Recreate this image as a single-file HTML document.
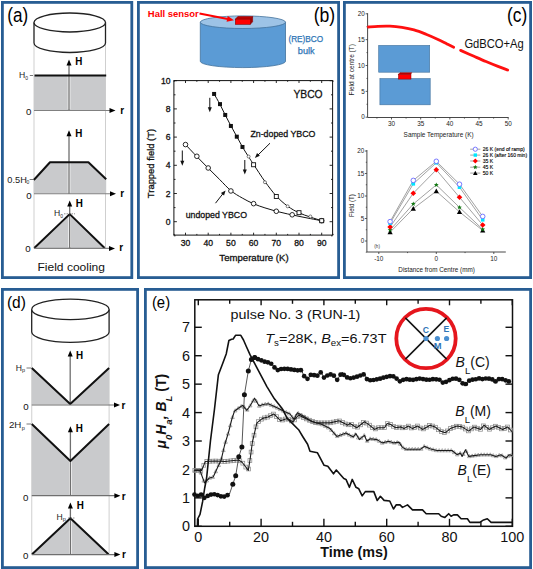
<!DOCTYPE html>
<html><head><meta charset="utf-8"><style>
html,body{margin:0;padding:0;background:#fff;}
svg{display:block;}
text{font-family:"Liberation Sans",sans-serif;}
</style></head><body>
<svg width="533" height="569" viewBox="0 0 533 569">
<rect x="0" y="0" width="533" height="569" fill="#fff"/>
<rect x="2.4" y="2.4" width="129.4" height="275.2" fill="none" stroke="#285d93" stroke-width="2.8"/>
<text x="7.2" y="21.9" font-size="19.3" fill="#000" textLength="20.9" lengthAdjust="spacingAndGlyphs">(a)</text>
<line x1="34" y1="44" x2="34" y2="248.5" stroke="#cfcfcf" stroke-width="1"/>
<line x1="105.5" y1="44" x2="105.5" y2="248.5" stroke="#cfcfcf" stroke-width="1"/>
<path d="M34.0,22.5 L34.0,43 A35.75,9.5 0 0 0 105.5,43 L105.5,22.5" stroke="#222" stroke-width="1.3" fill="#fff"/>
<ellipse cx="69.75" cy="22.5" rx="35.75" ry="9.5" fill="#fff" stroke="#222" stroke-width="1.3"/>
<rect x="34" y="76" width="71.5" height="34" fill="#c9cacc"/>
<line x1="69" y1="109.3" x2="69" y2="64" stroke="#fff" stroke-width="2.6"/>
<line x1="69" y1="110.5" x2="69" y2="64" stroke="#6f6f6f" stroke-width="1.3"/>
<line x1="34.5" y1="75.5" x2="106.2" y2="75.5" stroke="#111" stroke-width="2"/>
<polygon points="69,59.5 71.5,65.5 66.5,65.5" stroke="none" stroke-width="1" fill="#000" stroke-linejoin="round"/>
<line x1="34" y1="110.5" x2="110" y2="110.5" stroke="#808080" stroke-width="1.1"/>
<polygon points="115.5,110.5 109.5,113 109.5,108" stroke="none" stroke-width="1" fill="#000" stroke-linejoin="round"/>
<text x="75.3" y="65.3" font-size="10.6" fill="#000" font-weight="bold" textLength="7.1" lengthAdjust="spacingAndGlyphs">H</text>
<text x="120.2" y="113.6" font-size="10" fill="#000" font-weight="bold">r</text>
<text x="25.9" y="114.8" font-size="9.7" fill="#111">0</text>
<text x="19" y="78.3" font-size="8.6" fill="#1a1a1a">H</text>
<text x="25.2" y="80" font-size="5" fill="#1a1a1a">0</text>
<line x1="29.8" y1="75.5" x2="33" y2="75.5" stroke="#555" stroke-width="0.8"/>
<polygon points="33.8,180 50,162.3 88.4,162.3 106.2,179.2 106.2,193.5 33.8,193.5" stroke="none" stroke-width="1" fill="#c9cacc" stroke-linejoin="round"/>
<line x1="69" y1="192.8" x2="69" y2="135" stroke="#fff" stroke-width="2.6"/>
<line x1="69" y1="194" x2="69" y2="135" stroke="#6f6f6f" stroke-width="1.3"/>
<polyline points="33.8,180 50,162.3 88.4,162.3 106.2,179.2" stroke="#111" stroke-width="2" fill="none" stroke-linejoin="round"/>
<polygon points="69,130.3 71.5,136.3 66.5,136.3" stroke="none" stroke-width="1" fill="#000" stroke-linejoin="round"/>
<line x1="34" y1="193.8" x2="111" y2="193.8" stroke="#808080" stroke-width="1.1"/>
<polygon points="116,193.8 110,196.3 110,191.3" stroke="none" stroke-width="1" fill="#000" stroke-linejoin="round"/>
<text x="75.3" y="137.2" font-size="10.6" fill="#000" font-weight="bold" textLength="7.1" lengthAdjust="spacingAndGlyphs">H</text>
<text x="120.2" y="197" font-size="10" fill="#000" font-weight="bold">r</text>
<text x="26.2" y="198.7" font-size="9.7" fill="#111">0</text>
<text x="7.3" y="182.8" font-size="8.6" fill="#1a1a1a" textLength="19.5" lengthAdjust="spacingAndGlyphs">0.5H</text>
<text x="26.6" y="184.3" font-size="5" fill="#1a1a1a">0</text>
<line x1="29.6" y1="179.5" x2="33" y2="179.5" stroke="#555" stroke-width="0.8"/>
<polygon points="34.3,248 69.7,214.1 104.6,248" stroke="none" stroke-width="1" fill="#c9cacc" stroke-linejoin="round"/>
<line x1="69.7" y1="247.3" x2="69.7" y2="205" stroke="#fff" stroke-width="2.6"/>
<line x1="69.7" y1="248.5" x2="69.7" y2="205" stroke="#6f6f6f" stroke-width="1.3"/>
<polyline points="34.3,248 69.7,214.1 104.6,248" stroke="#111" stroke-width="2" fill="none" stroke-linejoin="round"/>
<polygon points="69.7,200.6 72.2,206.6 67.2,206.6" stroke="none" stroke-width="1" fill="#000" stroke-linejoin="round"/>
<line x1="34" y1="248.4" x2="110" y2="248.4" stroke="#808080" stroke-width="1.1"/>
<polygon points="115,248.4 109,250.9 109,245.9" stroke="none" stroke-width="1" fill="#000" stroke-linejoin="round"/>
<text x="75.8" y="206.8" font-size="10.6" fill="#000" font-weight="bold" textLength="7.1" lengthAdjust="spacingAndGlyphs">H</text>
<text x="119.2" y="250.5" font-size="10" fill="#000" font-weight="bold">r</text>
<text x="25.3" y="252.1" font-size="9.7" fill="#111">0</text>
<text x="54" y="216.4" font-size="8.6" fill="#1a1a1a">H</text>
<text x="60.2" y="218" font-size="5" fill="#1a1a1a">0</text>
<line x1="64" y1="213.8" x2="75" y2="213.8" stroke="#777" stroke-width="0.8" stroke-dasharray="1.5,1"/>
<text x="37.5" y="270.8" font-size="11.4" fill="#111" textLength="67.5" lengthAdjust="spacingAndGlyphs">Field cooling</text>
<rect x="2.4" y="289.4" width="135.2" height="278.2" fill="none" stroke="#285d93" stroke-width="2.8"/>
<text x="6.9" y="307.6" font-size="16.6" fill="#000" textLength="19" lengthAdjust="spacingAndGlyphs">(d)</text>
<line x1="31.75" y1="332" x2="31.75" y2="555" stroke="#cfcfcf" stroke-width="1"/>
<line x1="109.1" y1="332" x2="109.1" y2="555" stroke="#cfcfcf" stroke-width="1"/>
<path d="M31.700000000000003,309.4 L31.700000000000003,332.1 A38.7,10.2 0 0 0 109.10000000000001,332.1 L109.10000000000001,309.4" stroke="#222" stroke-width="1.3" fill="#fff"/>
<ellipse cx="70.4" cy="309.4" rx="38.7" ry="10.2" fill="#fff" stroke="#222" stroke-width="1.3"/>
<polygon points="31.75,368 70.2,404.5 31.75,404.5" stroke="none" stroke-width="1" fill="#c9cacc" stroke-linejoin="round"/>
<polygon points="109.1,368 70.2,404.5 109.1,404.5" stroke="none" stroke-width="1" fill="#c9cacc" stroke-linejoin="round"/>
<line x1="70.2" y1="403.8" x2="70.2" y2="355" stroke="#fff" stroke-width="2.6"/>
<line x1="70.2" y1="405" x2="70.2" y2="355" stroke="#6f6f6f" stroke-width="1.3"/>
<polyline points="31.75,368 70.2,404 109.1,368" stroke="#111" stroke-width="2" fill="none" stroke-linejoin="round"/>
<polygon points="70.2,350.5 72.7,356.5 67.7,356.5" stroke="none" stroke-width="1" fill="#000" stroke-linejoin="round"/>
<line x1="31.75" y1="405" x2="115" y2="405" stroke="#6f6f6f" stroke-width="1.2"/>
<polygon points="120,405 114,407.5 114,402.5" stroke="none" stroke-width="1" fill="#000" stroke-linejoin="round"/>
<text x="76" y="359.4" font-size="10.6" fill="#000" font-weight="bold" textLength="7.1" lengthAdjust="spacingAndGlyphs">H</text>
<text x="121.4" y="408.6" font-size="10" fill="#000" font-weight="bold">r</text>
<text x="23.3" y="409.5" font-size="9.7" fill="#111">0</text>
<text x="15.8" y="370.7" font-size="8.6" fill="#1a1a1a">H</text>
<text x="22" y="372.3" font-size="5.5" fill="#1a1a1a">p</text>
<line x1="26.5" y1="368" x2="31" y2="368" stroke="#555" stroke-width="0.8"/>
<polygon points="31.75,424 70.4,461 109.1,424 109.1,495.5 31.75,495.5" stroke="none" stroke-width="1" fill="#c9cacc" stroke-linejoin="round"/>
<line x1="70.4" y1="494.8" x2="70.4" y2="430.5" stroke="#fff" stroke-width="2.6"/>
<line x1="70.4" y1="496" x2="70.4" y2="430.5" stroke="#6f6f6f" stroke-width="1.3"/>
<polyline points="31.75,424 70.4,461 109.1,424" stroke="#111" stroke-width="2" fill="none" stroke-linejoin="round"/>
<polygon points="70.4,426.2 72.9,432.2 67.9,432.2" stroke="none" stroke-width="1" fill="#000" stroke-linejoin="round"/>
<line x1="31.75" y1="495.7" x2="116" y2="495.7" stroke="#6f6f6f" stroke-width="1.2"/>
<polygon points="120.4,495.7 114.4,498.2 114.4,493.2" stroke="none" stroke-width="1" fill="#000" stroke-linejoin="round"/>
<text x="75.8" y="432.2" font-size="10.6" fill="#000" font-weight="bold" textLength="7.1" lengthAdjust="spacingAndGlyphs">H</text>
<text x="121.8" y="500" font-size="10" fill="#000" font-weight="bold">r</text>
<text x="22.9" y="501.1" font-size="9.7" fill="#111">0</text>
<text x="8.9" y="428.2" font-size="8.6" fill="#1a1a1a" textLength="12.5" lengthAdjust="spacingAndGlyphs">2H</text>
<text x="21.7" y="430" font-size="5.5" fill="#1a1a1a">p</text>
<line x1="26.5" y1="424" x2="31" y2="424" stroke="#555" stroke-width="0.8"/>
<polygon points="32.1,554.5 70.4,518.3 108.5,554.5" stroke="none" stroke-width="1" fill="#c9cacc" stroke-linejoin="round"/>
<line x1="70.4" y1="553.8" x2="70.4" y2="507" stroke="#fff" stroke-width="2.6"/>
<line x1="70.4" y1="555" x2="70.4" y2="507" stroke="#6f6f6f" stroke-width="1.3"/>
<polyline points="32.1,554.3 70.4,518.3 108.5,554.3" stroke="#111" stroke-width="2" fill="none" stroke-linejoin="round"/>
<polygon points="70.4,502.6 72.9,508.6 67.9,508.6" stroke="none" stroke-width="1" fill="#000" stroke-linejoin="round"/>
<line x1="31.75" y1="554.6" x2="116" y2="554.6" stroke="#6f6f6f" stroke-width="1.2"/>
<polygon points="120.4,554.6 114.4,557.1 114.4,552.1" stroke="none" stroke-width="1" fill="#000" stroke-linejoin="round"/>
<text x="76.7" y="509.4" font-size="10.6" fill="#000" font-weight="bold" textLength="7.1" lengthAdjust="spacingAndGlyphs">H</text>
<text x="122" y="557.8" font-size="10" fill="#000" font-weight="bold">r</text>
<text x="22.9" y="558.5" font-size="9.7" fill="#111">0</text>
<text x="56.5" y="519.5" font-size="8.6" fill="#1a1a1a">H</text>
<text x="62.7" y="521" font-size="5.5" fill="#1a1a1a">p</text>
<line x1="68" y1="518" x2="75" y2="518" stroke="#777" stroke-width="0.8" stroke-dasharray="1.5,1"/>
<rect x="138.4" y="2.4" width="200.2" height="275.2" fill="none" stroke="#285d93" stroke-width="2.8"/>
<path d="M200.3,22.2 L200.3,61.3 A42.6,6.3 0 0 0 285.5,61.3 L285.5,22.2 Z" stroke="#41719c" stroke-width="0.8" fill="#5b9bd5"/>
<ellipse cx="242.9" cy="22.2" rx="42.6" ry="6.3" fill="#9dc3e6" stroke="#41719c" stroke-width="0.8"/>
<polygon points="235.3,19.2 237.8,16.6 252.6,16.6 250.3,19.2" stroke="#8b0000" stroke-width="0.6" fill="#c00000" stroke-linejoin="round"/>
<polygon points="250.3,19.2 252.6,16.6 252.6,21.8 250.3,24.3" stroke="#8b0000" stroke-width="0.6" fill="#a00000" stroke-linejoin="round"/>
<rect x="235.3" y="19.2" width="15" height="5.1" fill="#ff0000" stroke="#8b0000" stroke-width="0.6"/>
<line x1="199.5" y1="13.4" x2="229" y2="19.3" stroke="#ff0000" stroke-width="2"/>
<polygon points="234,20.3 226.55,21.87 227.72,15.99" stroke="none" stroke-width="1" fill="#ff0000" stroke-linejoin="round"/>
<text x="147.8" y="16.8" font-size="9.3" fill="#ff0000" font-weight="bold" textLength="51" lengthAdjust="spacingAndGlyphs">Hall sensor</text>
<text x="313.7" y="22.2" font-size="19.3" fill="#000" textLength="21.5" lengthAdjust="spacingAndGlyphs">(b)</text>
<text x="288.4" y="42.3" font-size="9" fill="#2e75b6" textLength="34.8" lengthAdjust="spacingAndGlyphs" stroke="#2e75b6" stroke-width="0.25">(RE)BCO</text>
<text x="297.8" y="54.3" font-size="9" fill="#2e75b6" textLength="16.8" lengthAdjust="spacingAndGlyphs" stroke="#2e75b6" stroke-width="0.25">bulk</text>
<rect x="173.9" y="80.6" width="158.7" height="154.5" fill="none" stroke="#111" stroke-width="1"/>
<line x1="173.9" y1="235.8" x2="175.5" y2="235.8" stroke="#111" stroke-width="0.9"/>
<line x1="332.6" y1="235.8" x2="331" y2="235.8" stroke="#111" stroke-width="0.9"/>
<line x1="173.9" y1="221.7" x2="176.9" y2="221.7" stroke="#111" stroke-width="0.9"/>
<line x1="332.6" y1="221.7" x2="329.6" y2="221.7" stroke="#111" stroke-width="0.9"/>
<text x="170.6" y="224.7" font-size="8.6" fill="#111" text-anchor="end" stroke="#111" stroke-width="0.3">0</text>
<line x1="173.9" y1="207.6" x2="175.5" y2="207.6" stroke="#111" stroke-width="0.9"/>
<line x1="332.6" y1="207.6" x2="331" y2="207.6" stroke="#111" stroke-width="0.9"/>
<line x1="173.9" y1="193.5" x2="176.9" y2="193.5" stroke="#111" stroke-width="0.9"/>
<line x1="332.6" y1="193.5" x2="329.6" y2="193.5" stroke="#111" stroke-width="0.9"/>
<text x="170.6" y="196.5" font-size="8.6" fill="#111" text-anchor="end" stroke="#111" stroke-width="0.3">2</text>
<line x1="173.9" y1="179.4" x2="175.5" y2="179.4" stroke="#111" stroke-width="0.9"/>
<line x1="332.6" y1="179.4" x2="331" y2="179.4" stroke="#111" stroke-width="0.9"/>
<line x1="173.9" y1="165.3" x2="176.9" y2="165.3" stroke="#111" stroke-width="0.9"/>
<line x1="332.6" y1="165.3" x2="329.6" y2="165.3" stroke="#111" stroke-width="0.9"/>
<text x="170.6" y="168.3" font-size="8.6" fill="#111" text-anchor="end" stroke="#111" stroke-width="0.3">4</text>
<line x1="173.9" y1="151.2" x2="175.5" y2="151.2" stroke="#111" stroke-width="0.9"/>
<line x1="332.6" y1="151.2" x2="331" y2="151.2" stroke="#111" stroke-width="0.9"/>
<line x1="173.9" y1="137.1" x2="176.9" y2="137.1" stroke="#111" stroke-width="0.9"/>
<line x1="332.6" y1="137.1" x2="329.6" y2="137.1" stroke="#111" stroke-width="0.9"/>
<text x="170.6" y="140.1" font-size="8.6" fill="#111" text-anchor="end" stroke="#111" stroke-width="0.3">6</text>
<line x1="173.9" y1="123" x2="175.5" y2="123" stroke="#111" stroke-width="0.9"/>
<line x1="332.6" y1="123" x2="331" y2="123" stroke="#111" stroke-width="0.9"/>
<line x1="173.9" y1="108.9" x2="176.9" y2="108.9" stroke="#111" stroke-width="0.9"/>
<line x1="332.6" y1="108.9" x2="329.6" y2="108.9" stroke="#111" stroke-width="0.9"/>
<text x="170.6" y="111.9" font-size="8.6" fill="#111" text-anchor="end" stroke="#111" stroke-width="0.3">8</text>
<line x1="173.9" y1="94.8" x2="175.5" y2="94.8" stroke="#111" stroke-width="0.9"/>
<line x1="332.6" y1="94.8" x2="331" y2="94.8" stroke="#111" stroke-width="0.9"/>
<line x1="173.9" y1="80.7" x2="176.9" y2="80.7" stroke="#111" stroke-width="0.9"/>
<line x1="332.6" y1="80.7" x2="329.6" y2="80.7" stroke="#111" stroke-width="0.9"/>
<text x="170.6" y="83.7" font-size="8.6" fill="#111" text-anchor="end" stroke="#111" stroke-width="0.3">10</text>
<line x1="174.15" y1="235.1" x2="174.15" y2="233.9" stroke="#111" stroke-width="0.9"/>
<line x1="174.15" y1="80.6" x2="174.15" y2="81.8" stroke="#111" stroke-width="0.9"/>
<line x1="185.5" y1="235.1" x2="185.5" y2="232.7" stroke="#111" stroke-width="0.9"/>
<line x1="185.5" y1="80.6" x2="185.5" y2="83" stroke="#111" stroke-width="0.9"/>
<text x="185.5" y="245.7" font-size="8.6" fill="#111" text-anchor="middle" stroke="#111" stroke-width="0.3">30</text>
<line x1="196.85" y1="235.1" x2="196.85" y2="233.9" stroke="#111" stroke-width="0.9"/>
<line x1="196.85" y1="80.6" x2="196.85" y2="81.8" stroke="#111" stroke-width="0.9"/>
<line x1="208.2" y1="235.1" x2="208.2" y2="232.7" stroke="#111" stroke-width="0.9"/>
<line x1="208.2" y1="80.6" x2="208.2" y2="83" stroke="#111" stroke-width="0.9"/>
<text x="208.2" y="245.7" font-size="8.6" fill="#111" text-anchor="middle" stroke="#111" stroke-width="0.3">40</text>
<line x1="219.55" y1="235.1" x2="219.55" y2="233.9" stroke="#111" stroke-width="0.9"/>
<line x1="219.55" y1="80.6" x2="219.55" y2="81.8" stroke="#111" stroke-width="0.9"/>
<line x1="230.9" y1="235.1" x2="230.9" y2="232.7" stroke="#111" stroke-width="0.9"/>
<line x1="230.9" y1="80.6" x2="230.9" y2="83" stroke="#111" stroke-width="0.9"/>
<text x="230.9" y="245.7" font-size="8.6" fill="#111" text-anchor="middle" stroke="#111" stroke-width="0.3">50</text>
<line x1="242.25" y1="235.1" x2="242.25" y2="233.9" stroke="#111" stroke-width="0.9"/>
<line x1="242.25" y1="80.6" x2="242.25" y2="81.8" stroke="#111" stroke-width="0.9"/>
<line x1="253.6" y1="235.1" x2="253.6" y2="232.7" stroke="#111" stroke-width="0.9"/>
<line x1="253.6" y1="80.6" x2="253.6" y2="83" stroke="#111" stroke-width="0.9"/>
<text x="253.6" y="245.7" font-size="8.6" fill="#111" text-anchor="middle" stroke="#111" stroke-width="0.3">60</text>
<line x1="264.95" y1="235.1" x2="264.95" y2="233.9" stroke="#111" stroke-width="0.9"/>
<line x1="264.95" y1="80.6" x2="264.95" y2="81.8" stroke="#111" stroke-width="0.9"/>
<line x1="276.3" y1="235.1" x2="276.3" y2="232.7" stroke="#111" stroke-width="0.9"/>
<line x1="276.3" y1="80.6" x2="276.3" y2="83" stroke="#111" stroke-width="0.9"/>
<text x="276.3" y="245.7" font-size="8.6" fill="#111" text-anchor="middle" stroke="#111" stroke-width="0.3">70</text>
<line x1="287.65" y1="235.1" x2="287.65" y2="233.9" stroke="#111" stroke-width="0.9"/>
<line x1="287.65" y1="80.6" x2="287.65" y2="81.8" stroke="#111" stroke-width="0.9"/>
<line x1="299" y1="235.1" x2="299" y2="232.7" stroke="#111" stroke-width="0.9"/>
<line x1="299" y1="80.6" x2="299" y2="83" stroke="#111" stroke-width="0.9"/>
<text x="299" y="245.7" font-size="8.6" fill="#111" text-anchor="middle" stroke="#111" stroke-width="0.3">80</text>
<line x1="310.35" y1="235.1" x2="310.35" y2="233.9" stroke="#111" stroke-width="0.9"/>
<line x1="310.35" y1="80.6" x2="310.35" y2="81.8" stroke="#111" stroke-width="0.9"/>
<line x1="321.7" y1="235.1" x2="321.7" y2="232.7" stroke="#111" stroke-width="0.9"/>
<line x1="321.7" y1="80.6" x2="321.7" y2="83" stroke="#111" stroke-width="0.9"/>
<text x="321.7" y="245.7" font-size="8.6" fill="#111" text-anchor="middle" stroke="#111" stroke-width="0.3">90</text>
<line x1="333.05" y1="235.1" x2="333.05" y2="233.9" stroke="#111" stroke-width="0.9"/>
<line x1="333.05" y1="80.6" x2="333.05" y2="81.8" stroke="#111" stroke-width="0.9"/>
<text x="154" y="163.5" font-size="9.4" fill="#111" text-anchor="middle" stroke="#111" stroke-width="0.3" textLength="69.3" lengthAdjust="spacingAndGlyphs" transform="rotate(-90 154 163.5)">Trapped field (T)</text>
<text x="254" y="260.7" font-size="9.4" fill="#111" text-anchor="middle" stroke="#111" stroke-width="0.3" textLength="69.3" lengthAdjust="spacingAndGlyphs">Temperature (K)</text>
<text x="293.4" y="98.2" font-size="11.6" fill="#111" stroke="#111" stroke-width="0.3" textLength="29.2" lengthAdjust="spacingAndGlyphs">YBCO</text>
<text x="250.4" y="136.9" font-size="9.4" fill="#111" stroke="#111" stroke-width="0.3" textLength="65" lengthAdjust="spacingAndGlyphs">Zn-doped YBCO</text>
<text x="185.7" y="218.1" font-size="9.4" fill="#111" stroke="#111" stroke-width="0.3" textLength="61.3" lengthAdjust="spacingAndGlyphs">undoped YBCO</text>
<path d="M185.5,144.57 C187.39,146.57 193.07,152.63 196.85,156.56 C200.63,160.48 204.42,164.31 208.2,168.12 C211.98,171.93 215.77,175.64 219.55,179.4 C223.33,183.16 227.12,187.58 230.9,190.68 C234.68,193.78 238.47,195.83 242.25,198.01 C246.03,200.2 249.82,202.15 253.6,203.79 C257.38,205.44 261.17,206.64 264.95,207.88 C268.73,209.13 272.52,210.26 276.3,211.27 C280.08,212.28 283.87,213.1 287.65,213.94 C291.43,214.79 295.22,215.57 299,216.34 C302.78,217.12 306.57,217.87 310.35,218.6 C314.13,219.33 319.81,220.36 321.7,220.71" stroke="#111" stroke-width="1" fill="none"/>
<path d="M214.1,93.95 C215.09,95.69 218.15,100.89 220,104.39 C221.86,107.89 223.41,111.39 225.22,114.96 C227.04,118.53 228.97,122.22 230.9,125.82 C232.83,129.42 234.87,133.01 236.8,136.54 C238.73,140.06 240.51,143.59 242.48,146.97 C244.44,150.35 246.75,153.93 248.61,156.84 C250.46,159.75 250.88,160.34 253.6,164.45 C256.32,168.57 261.17,176.25 264.95,181.51 C268.73,186.78 272.52,191.93 276.3,196.04 C280.08,200.15 283.87,203.39 287.65,206.19 C291.43,208.99 295.22,211.01 299,212.82 C302.78,214.63 306.57,215.73 310.35,217.05 C314.13,218.36 319.81,220.1 321.7,220.71" stroke="#111" stroke-width="1" fill="none"/>
<circle cx="185.5" cy="144.57" r="2.3" fill="#fff" stroke="#111" stroke-width="0.9"/>
<circle cx="196.85" cy="156.28" r="2.3" fill="#fff" stroke="#111" stroke-width="0.9"/>
<circle cx="208.2" cy="167.98" r="2.3" fill="#fff" stroke="#111" stroke-width="0.9"/>
<circle cx="230.9" cy="190.96" r="2.3" fill="#fff" stroke="#111" stroke-width="0.9"/>
<circle cx="253.6" cy="203.65" r="2.3" fill="#fff" stroke="#111" stroke-width="0.9"/>
<circle cx="276.3" cy="211.27" r="2.3" fill="#fff" stroke="#111" stroke-width="0.9"/>
<circle cx="292.19" cy="214.79" r="2.3" fill="#fff" stroke="#111" stroke-width="0.9"/>
<circle cx="321.7" cy="220.71" r="2.3" fill="#fff" stroke="#111" stroke-width="0.9"/>
<rect x="212.1" y="91.95" width="4" height="4" fill="#111"/>
<rect x="218" y="102.11" width="4" height="4" fill="#111"/>
<rect x="223.22" y="112.96" width="4" height="4" fill="#111"/>
<rect x="228.9" y="123.96" width="4" height="4" fill="#111"/>
<rect x="234.8" y="134.68" width="4" height="4" fill="#111"/>
<rect x="240.48" y="144.97" width="4" height="4" fill="#111"/>
<rect x="251.6" y="162.74" width="4" height="4" fill="#fff" stroke="#111" stroke-width="0.9"/>
<rect x="274.3" y="194.46" width="4" height="4" fill="#fff" stroke="#111" stroke-width="0.9"/>
<rect x="297" y="210.68" width="4" height="4" fill="#fff" stroke="#111" stroke-width="0.9"/>
<rect x="319.7" y="218.71" width="4" height="4" fill="#fff" stroke="#111" stroke-width="0.9"/>
<circle cx="248.61" cy="156.56" r="1.5" fill="#fff" stroke="#444" stroke-width="0.7"/>
<circle cx="264.95" cy="182.22" r="1.5" fill="#fff" stroke="#444" stroke-width="0.7"/>
<circle cx="287.65" cy="206.33" r="1.5" fill="#fff" stroke="#444" stroke-width="0.7"/>
<circle cx="310.35" cy="216.48" r="1.5" fill="#fff" stroke="#444" stroke-width="0.7"/>
<line x1="182.3" y1="150.5" x2="182.3" y2="161.7" stroke="#111" stroke-width="1"/>
<polygon points="182.3,165.7 180.3,160.7 184.3,160.7" stroke="none" stroke-width="1" fill="#111" stroke-linejoin="round"/>
<line x1="209.8" y1="97.8" x2="209.8" y2="108.2" stroke="#111" stroke-width="1"/>
<polygon points="209.8,112.2 207.8,107.2 211.8,107.2" stroke="none" stroke-width="1" fill="#111" stroke-linejoin="round"/>
<line x1="244.8" y1="160" x2="244.8" y2="170.4" stroke="#111" stroke-width="1"/>
<polygon points="244.8,174.4 242.8,169.4 246.8,169.4" stroke="none" stroke-width="1" fill="#111" stroke-linejoin="round"/>
<line x1="270" y1="143.2" x2="258" y2="155" stroke="#111" stroke-width="1"/>
<polygon points="254.9,157.9 257.02,152.95 259.85,155.78" stroke="none" stroke-width="1" fill="#111" stroke-linejoin="round"/>
<line x1="215.5" y1="203.2" x2="223" y2="193.6" stroke="#111" stroke-width="1"/>
<polygon points="225.6,190.4 224.04,195.55 220.91,193.05" stroke="none" stroke-width="1" fill="#111" stroke-linejoin="round"/>
<rect x="344.4" y="2.4" width="186.2" height="275.2" fill="none" stroke="#285d93" stroke-width="2.8"/>
<text x="507" y="21.6" font-size="19.6" fill="#000" textLength="20.2" lengthAdjust="spacingAndGlyphs">(c)</text>
<line x1="367.6" y1="13.2" x2="367.6" y2="117.5" stroke="#333" stroke-width="0.9"/>
<line x1="367.6" y1="117.5" x2="508.6" y2="117.5" stroke="#333" stroke-width="0.9"/>
<line x1="365.6" y1="117.2" x2="367.6" y2="117.2" stroke="#333" stroke-width="0.8"/>
<text x="364.8" y="119.4" font-size="6.3" fill="#222" text-anchor="end">0</text>
<line x1="366.5" y1="104.28" x2="367.6" y2="104.28" stroke="#333" stroke-width="0.8"/>
<line x1="365.6" y1="91.35" x2="367.6" y2="91.35" stroke="#333" stroke-width="0.8"/>
<text x="364.8" y="93.55" font-size="6.3" fill="#222" text-anchor="end">5</text>
<line x1="366.5" y1="78.43" x2="367.6" y2="78.43" stroke="#333" stroke-width="0.8"/>
<line x1="365.6" y1="65.5" x2="367.6" y2="65.5" stroke="#333" stroke-width="0.8"/>
<text x="364.8" y="67.7" font-size="6.3" fill="#222" text-anchor="end">10</text>
<line x1="366.5" y1="52.58" x2="367.6" y2="52.58" stroke="#333" stroke-width="0.8"/>
<line x1="365.6" y1="39.65" x2="367.6" y2="39.65" stroke="#333" stroke-width="0.8"/>
<text x="364.8" y="41.85" font-size="6.3" fill="#222" text-anchor="end">15</text>
<line x1="366.5" y1="26.73" x2="367.6" y2="26.73" stroke="#333" stroke-width="0.8"/>
<line x1="365.6" y1="13.8" x2="367.6" y2="13.8" stroke="#333" stroke-width="0.8"/>
<text x="364.8" y="16" font-size="6.3" fill="#222" text-anchor="end">20</text>
<line x1="376.91" y1="117.5" x2="376.91" y2="118.6" stroke="#333" stroke-width="0.8"/>
<line x1="391.5" y1="117.5" x2="391.5" y2="119.5" stroke="#333" stroke-width="0.8"/>
<text x="391.5" y="125.6" font-size="6.4" fill="#222" text-anchor="middle">30</text>
<line x1="406.09" y1="117.5" x2="406.09" y2="118.6" stroke="#333" stroke-width="0.8"/>
<line x1="420.68" y1="117.5" x2="420.68" y2="119.5" stroke="#333" stroke-width="0.8"/>
<text x="420.68" y="125.6" font-size="6.4" fill="#222" text-anchor="middle">35</text>
<line x1="435.26" y1="117.5" x2="435.26" y2="118.6" stroke="#333" stroke-width="0.8"/>
<line x1="449.85" y1="117.5" x2="449.85" y2="119.5" stroke="#333" stroke-width="0.8"/>
<text x="449.85" y="125.6" font-size="6.4" fill="#222" text-anchor="middle">40</text>
<line x1="464.44" y1="117.5" x2="464.44" y2="118.6" stroke="#333" stroke-width="0.8"/>
<line x1="479.02" y1="117.5" x2="479.02" y2="119.5" stroke="#333" stroke-width="0.8"/>
<text x="479.02" y="125.6" font-size="6.4" fill="#222" text-anchor="middle">45</text>
<line x1="493.61" y1="117.5" x2="493.61" y2="118.6" stroke="#333" stroke-width="0.8"/>
<line x1="508.2" y1="117.5" x2="508.2" y2="119.5" stroke="#333" stroke-width="0.8"/>
<text x="508.2" y="125.6" font-size="6.4" fill="#222" text-anchor="middle">50</text>
<text x="354.3" y="69.8" font-size="6.5" fill="#222" text-anchor="middle" textLength="51.4" lengthAdjust="spacingAndGlyphs" transform="rotate(-90 354.3 69.8)">Field at centre (T)</text>
<text x="438.6" y="136.6" font-size="6.6" fill="#222" text-anchor="middle" textLength="70" lengthAdjust="spacingAndGlyphs">Sample Temperature (K)</text>
<rect x="378.7" y="45.4" width="51" height="26.8" fill="#5b9bd5" stroke="#41719c" stroke-width="0.6"/>
<rect x="379.9" y="78.6" width="50.3" height="26.2" fill="#5b9bd5" stroke="#41719c" stroke-width="0.6"/>
<polygon points="398.4,74.3 400,72.7 411.8,72.7 410.6,74.3" stroke="#800" stroke-width="0.5" fill="#c00000" stroke-linejoin="round"/>
<rect x="398.4" y="74.3" width="12.6" height="4.8" fill="#ff0000" stroke="#800" stroke-width="0.5"/>
<path d="M368.4,27 C370,26.88 374.4,26.43 378,26.3 C381.6,26.17 386,26.02 390,26.2 C394,26.38 398,26.78 402,27.4 C406,28.02 410,28.77 414,29.9 C418,31.03 422,32.62 426,34.2 C430,35.78 434.5,37.78 438,39.4 C441.5,41.02 444.38,42.6 447,43.9 C449.62,45.2 452.58,46.65 453.7,47.2" stroke="#ff1010" stroke-width="2.8" fill="none" stroke-linecap="round"/>
<path d="M460.6,50.4 C462.83,51.38 469.77,54.45 474,56.3 C478.23,58.15 482,59.82 486,61.5 C490,63.18 494.38,64.98 498,66.4 C501.62,67.82 506.08,69.4 507.7,70" stroke="#ff1010" stroke-width="2.8" fill="none" stroke-linecap="round"/>
<text x="464.4" y="47.7" font-size="12" fill="#111" textLength="59.4" lengthAdjust="spacingAndGlyphs">GdBCO+Ag</text>
<line x1="366.9" y1="150" x2="366.9" y2="252" stroke="#333" stroke-width="0.9"/>
<line x1="366.9" y1="252" x2="505.8" y2="252" stroke="#333" stroke-width="0.9"/>
<line x1="365.8" y1="252.25" x2="366.9" y2="252.25" stroke="#333" stroke-width="0.8"/>
<line x1="364.9" y1="241" x2="366.9" y2="241" stroke="#333" stroke-width="0.8"/>
<text x="364.2" y="243.2" font-size="6.3" fill="#222" text-anchor="end">0</text>
<line x1="365.8" y1="229.75" x2="366.9" y2="229.75" stroke="#333" stroke-width="0.8"/>
<line x1="364.9" y1="218.5" x2="366.9" y2="218.5" stroke="#333" stroke-width="0.8"/>
<text x="364.2" y="220.7" font-size="6.3" fill="#222" text-anchor="end">5</text>
<line x1="365.8" y1="207.25" x2="366.9" y2="207.25" stroke="#333" stroke-width="0.8"/>
<line x1="364.9" y1="196" x2="366.9" y2="196" stroke="#333" stroke-width="0.8"/>
<text x="364.2" y="198.2" font-size="6.3" fill="#222" text-anchor="end">10</text>
<line x1="365.8" y1="184.75" x2="366.9" y2="184.75" stroke="#333" stroke-width="0.8"/>
<line x1="364.9" y1="173.5" x2="366.9" y2="173.5" stroke="#333" stroke-width="0.8"/>
<text x="364.2" y="175.7" font-size="6.3" fill="#222" text-anchor="end">15</text>
<line x1="365.8" y1="162.25" x2="366.9" y2="162.25" stroke="#333" stroke-width="0.8"/>
<line x1="364.9" y1="151" x2="366.9" y2="151" stroke="#333" stroke-width="0.8"/>
<text x="364.2" y="153.2" font-size="6.3" fill="#222" text-anchor="end">20</text>
<line x1="378.8" y1="252" x2="378.8" y2="254" stroke="#333" stroke-width="0.8"/>
<text x="378.8" y="261.2" font-size="6.4" fill="#222" text-anchor="middle">-10</text>
<line x1="407.55" y1="252" x2="407.55" y2="253.1" stroke="#333" stroke-width="0.8"/>
<line x1="436.3" y1="252" x2="436.3" y2="254" stroke="#333" stroke-width="0.8"/>
<text x="436.3" y="261.2" font-size="6.4" fill="#222" text-anchor="middle">0</text>
<line x1="465.05" y1="252" x2="465.05" y2="253.1" stroke="#333" stroke-width="0.8"/>
<line x1="493.8" y1="252" x2="493.8" y2="254" stroke="#333" stroke-width="0.8"/>
<text x="493.8" y="261.2" font-size="6.4" fill="#222" text-anchor="middle">10</text>
<text x="354" y="205.5" font-size="6.5" fill="#222" text-anchor="middle" textLength="22.8" lengthAdjust="spacingAndGlyphs" transform="rotate(-90 354 205.5)">Field (T)</text>
<text x="436.6" y="271.5" font-size="6.6" fill="#222" text-anchor="middle" textLength="76.5" lengthAdjust="spacingAndGlyphs">Distance from Centre (mm)</text>
<text x="374.3" y="248.4" font-size="4.6" fill="#333">(h)</text>
<polyline points="390.1,221.6 413.3,180.4 436.3,161.3 459.5,184.2 482.7,216.4" stroke="#8a8a8a" stroke-width="0.8" fill="none" stroke-linejoin="round"/>
<polyline points="390.1,223.2 413.3,183.8 436.3,162.8 459.5,187.2 482.7,219.8" stroke="#8a8a8a" stroke-width="0.8" fill="none" stroke-linejoin="round"/>
<polyline points="390.1,227 413.3,193.2 436.3,169.8 459.5,197.3 482.7,225" stroke="#8a8a8a" stroke-width="0.8" fill="none" stroke-linejoin="round"/>
<polyline points="390.1,230 413.3,204 436.3,184.9 459.5,207.4 482.7,229.3" stroke="#8a8a8a" stroke-width="0.8" fill="none" stroke-linejoin="round"/>
<polyline points="390.1,232.2 413.3,208.6 436.3,191.2 459.5,211.9 482.7,230.4" stroke="#8a8a8a" stroke-width="0.8" fill="none" stroke-linejoin="round"/>
<polygon points="390.1,229.6 392.7,234.28 387.5,234.28" stroke="none" stroke-width="1" fill="#000" stroke-linejoin="round"/>
<polygon points="413.3,206 415.9,210.68 410.7,210.68" stroke="none" stroke-width="1" fill="#000" stroke-linejoin="round"/>
<polygon points="436.3,188.6 438.9,193.28 433.7,193.28" stroke="none" stroke-width="1" fill="#000" stroke-linejoin="round"/>
<polygon points="459.5,209.3 462.1,213.98 456.9,213.98" stroke="none" stroke-width="1" fill="#000" stroke-linejoin="round"/>
<polygon points="482.7,227.8 485.3,232.48 480.1,232.48" stroke="none" stroke-width="1" fill="#000" stroke-linejoin="round"/>
<polygon points="390.1,227.5 390.76,229.09 392.48,229.23 391.17,230.35 391.57,232.02 390.1,231.12 388.63,232.02 389.03,230.35 387.72,229.23 389.44,229.09" stroke="none" stroke-width="1" fill="#117711" stroke-linejoin="round"/>
<polygon points="413.3,201.5 413.96,203.09 415.68,203.23 414.37,204.35 414.77,206.02 413.3,205.12 411.83,206.02 412.23,204.35 410.92,203.23 412.64,203.09" stroke="none" stroke-width="1" fill="#117711" stroke-linejoin="round"/>
<polygon points="436.3,182.4 436.96,183.99 438.68,184.13 437.37,185.25 437.77,186.92 436.3,186.03 434.83,186.92 435.23,185.25 433.92,184.13 435.64,183.99" stroke="none" stroke-width="1" fill="#117711" stroke-linejoin="round"/>
<polygon points="459.5,204.9 460.16,206.49 461.88,206.63 460.57,207.75 460.97,209.42 459.5,208.53 458.03,209.42 458.43,207.75 457.12,206.63 458.84,206.49" stroke="none" stroke-width="1" fill="#117711" stroke-linejoin="round"/>
<polygon points="482.7,226.8 483.36,228.39 485.08,228.53 483.77,229.65 484.17,231.32 482.7,230.43 481.23,231.32 481.63,229.65 480.32,228.53 482.04,228.39" stroke="none" stroke-width="1" fill="#117711" stroke-linejoin="round"/>
<polygon points="390.1,224.2 392.9,227 390.1,229.8 387.3,227" stroke="none" stroke-width="1" fill="#ff0000" stroke-linejoin="round"/>
<polygon points="413.3,190.4 416.1,193.2 413.3,196 410.5,193.2" stroke="none" stroke-width="1" fill="#ff0000" stroke-linejoin="round"/>
<polygon points="436.3,167 439.1,169.8 436.3,172.6 433.5,169.8" stroke="none" stroke-width="1" fill="#ff0000" stroke-linejoin="round"/>
<polygon points="459.5,194.5 462.3,197.3 459.5,200.1 456.7,197.3" stroke="none" stroke-width="1" fill="#ff0000" stroke-linejoin="round"/>
<polygon points="482.7,222.2 485.5,225 482.7,227.8 479.9,225" stroke="none" stroke-width="1" fill="#ff0000" stroke-linejoin="round"/>
<rect x="388.3" y="221.4" width="3.6" height="3.6" fill="#00e8ff"/>
<rect x="411.5" y="182" width="3.6" height="3.6" fill="#00e8ff"/>
<rect x="434.5" y="161" width="3.6" height="3.6" fill="#00e8ff"/>
<rect x="457.7" y="185.4" width="3.6" height="3.6" fill="#00e8ff"/>
<rect x="480.9" y="218" width="3.6" height="3.6" fill="#00e8ff"/>
<circle cx="390.1" cy="221.6" r="2.3" fill="#fff" stroke="#6a6aff" stroke-width="0.9"/>
<circle cx="413.3" cy="180.4" r="2.3" fill="#fff" stroke="#6a6aff" stroke-width="0.9"/>
<circle cx="436.3" cy="161.3" r="2.3" fill="#fff" stroke="#6a6aff" stroke-width="0.9"/>
<circle cx="459.5" cy="184.2" r="2.3" fill="#fff" stroke="#6a6aff" stroke-width="0.9"/>
<circle cx="482.7" cy="216.4" r="2.3" fill="#fff" stroke="#6a6aff" stroke-width="0.9"/>
<line x1="470.2" y1="149.2" x2="480.3" y2="149.2" stroke="#8a8a8a" stroke-width="0.8"/>
<circle cx="475.3" cy="149.2" r="2.1" fill="#fff" stroke="#6a6aff" stroke-width="0.9"/>
<text x="482.7" y="151" font-size="5" fill="#000" textLength="42" lengthAdjust="spacingAndGlyphs" stroke="#000" stroke-width="0.12">26 K (end of ramp)</text>
<line x1="470.2" y1="155.1" x2="480.3" y2="155.1" stroke="#8a8a8a" stroke-width="0.8"/>
<rect x="473.6" y="153.4" width="3.4" height="3.4" fill="#00e8ff"/>
<text x="482.7" y="156.9" font-size="5" fill="#000" textLength="44.4" lengthAdjust="spacingAndGlyphs" stroke="#000" stroke-width="0.12">26 K (after 160 min)</text>
<line x1="470.2" y1="161" x2="480.3" y2="161" stroke="#8a8a8a" stroke-width="0.8"/>
<polygon points="475.3,158.5 477.8,161 475.3,163.5 472.8,161" stroke="none" stroke-width="1" fill="#ff0000" stroke-linejoin="round"/>
<text x="482.7" y="162.8" font-size="5" fill="#000" textLength="10.5" lengthAdjust="spacingAndGlyphs" stroke="#000" stroke-width="0.12">35 K</text>
<line x1="470.2" y1="167.2" x2="480.3" y2="167.2" stroke="#8a8a8a" stroke-width="0.8"/>
<polygon points="475.3,164.8 475.93,166.33 477.58,166.46 476.33,167.53 476.71,169.14 475.3,168.28 473.89,169.14 474.27,167.53 473.02,166.46 474.67,166.33" stroke="none" stroke-width="1" fill="#117711" stroke-linejoin="round"/>
<text x="482.7" y="169" font-size="5" fill="#000" textLength="10.5" lengthAdjust="spacingAndGlyphs" stroke="#000" stroke-width="0.12">45 K</text>
<line x1="470.2" y1="173.1" x2="480.3" y2="173.1" stroke="#8a8a8a" stroke-width="0.8"/>
<polygon points="475.3,170.8 477.6,174.94 473,174.94" stroke="none" stroke-width="1" fill="#000" stroke-linejoin="round"/>
<text x="482.7" y="174.9" font-size="5" fill="#000" textLength="10.5" lengthAdjust="spacingAndGlyphs" stroke="#000" stroke-width="0.12">50 K</text>
<rect x="145.4" y="289.4" width="385.2" height="278.2" fill="none" stroke="#285d93" stroke-width="2.8"/>
<text x="151.9" y="307.8" font-size="16.8" fill="#000" textLength="18.2" lengthAdjust="spacingAndGlyphs">(e)</text>
<rect x="194.8" y="299.8" width="317.7" height="226.5" fill="none" stroke="#111" stroke-width="1.5"/>
<line x1="194.8" y1="526.3" x2="201.8" y2="526.3" stroke="#111" stroke-width="1.4"/>
<line x1="512.5" y1="526.3" x2="505.5" y2="526.3" stroke="#111" stroke-width="1.4"/>
<text x="189.9" y="531.4" font-size="14.4" fill="#111" text-anchor="end">0</text>
<line x1="194.8" y1="497.87" x2="201.8" y2="497.87" stroke="#111" stroke-width="1.4"/>
<line x1="512.5" y1="497.87" x2="505.5" y2="497.87" stroke="#111" stroke-width="1.4"/>
<text x="189.9" y="502.97" font-size="14.4" fill="#111" text-anchor="end">1</text>
<line x1="194.8" y1="469.44" x2="201.8" y2="469.44" stroke="#111" stroke-width="1.4"/>
<line x1="512.5" y1="469.44" x2="505.5" y2="469.44" stroke="#111" stroke-width="1.4"/>
<text x="189.9" y="474.54" font-size="14.4" fill="#111" text-anchor="end">2</text>
<line x1="194.8" y1="441.01" x2="201.8" y2="441.01" stroke="#111" stroke-width="1.4"/>
<line x1="512.5" y1="441.01" x2="505.5" y2="441.01" stroke="#111" stroke-width="1.4"/>
<text x="189.9" y="446.11" font-size="14.4" fill="#111" text-anchor="end">3</text>
<line x1="194.8" y1="412.58" x2="201.8" y2="412.58" stroke="#111" stroke-width="1.4"/>
<line x1="512.5" y1="412.58" x2="505.5" y2="412.58" stroke="#111" stroke-width="1.4"/>
<text x="189.9" y="417.68" font-size="14.4" fill="#111" text-anchor="end">4</text>
<line x1="194.8" y1="384.15" x2="201.8" y2="384.15" stroke="#111" stroke-width="1.4"/>
<line x1="512.5" y1="384.15" x2="505.5" y2="384.15" stroke="#111" stroke-width="1.4"/>
<text x="189.9" y="389.25" font-size="14.4" fill="#111" text-anchor="end">5</text>
<line x1="194.8" y1="355.72" x2="201.8" y2="355.72" stroke="#111" stroke-width="1.4"/>
<line x1="512.5" y1="355.72" x2="505.5" y2="355.72" stroke="#111" stroke-width="1.4"/>
<text x="189.9" y="360.82" font-size="14.4" fill="#111" text-anchor="end">6</text>
<line x1="194.8" y1="327.29" x2="201.8" y2="327.29" stroke="#111" stroke-width="1.4"/>
<line x1="512.5" y1="327.29" x2="505.5" y2="327.29" stroke="#111" stroke-width="1.4"/>
<text x="189.9" y="332.39" font-size="14.4" fill="#111" text-anchor="end">7</text>
<line x1="198.3" y1="526.3" x2="198.3" y2="518.8" stroke="#111" stroke-width="1.4"/>
<line x1="198.3" y1="299.8" x2="198.3" y2="305.3" stroke="#111" stroke-width="1.4"/>
<text x="198.3" y="542.1" font-size="14.4" fill="#111" text-anchor="middle">0</text>
<line x1="229.7" y1="526.3" x2="229.7" y2="521.8" stroke="#111" stroke-width="1.4"/>
<line x1="229.7" y1="299.8" x2="229.7" y2="303.8" stroke="#111" stroke-width="1.4"/>
<line x1="261.1" y1="526.3" x2="261.1" y2="518.8" stroke="#111" stroke-width="1.4"/>
<line x1="261.1" y1="299.8" x2="261.1" y2="305.3" stroke="#111" stroke-width="1.4"/>
<text x="261.1" y="542.1" font-size="14.4" fill="#111" text-anchor="middle">20</text>
<line x1="292.5" y1="526.3" x2="292.5" y2="521.8" stroke="#111" stroke-width="1.4"/>
<line x1="292.5" y1="299.8" x2="292.5" y2="303.8" stroke="#111" stroke-width="1.4"/>
<line x1="323.9" y1="526.3" x2="323.9" y2="518.8" stroke="#111" stroke-width="1.4"/>
<line x1="323.9" y1="299.8" x2="323.9" y2="305.3" stroke="#111" stroke-width="1.4"/>
<text x="323.9" y="542.1" font-size="14.4" fill="#111" text-anchor="middle">40</text>
<line x1="355.3" y1="526.3" x2="355.3" y2="521.8" stroke="#111" stroke-width="1.4"/>
<line x1="355.3" y1="299.8" x2="355.3" y2="303.8" stroke="#111" stroke-width="1.4"/>
<line x1="386.7" y1="526.3" x2="386.7" y2="518.8" stroke="#111" stroke-width="1.4"/>
<line x1="386.7" y1="299.8" x2="386.7" y2="305.3" stroke="#111" stroke-width="1.4"/>
<text x="386.7" y="542.1" font-size="14.4" fill="#111" text-anchor="middle">60</text>
<line x1="418.1" y1="526.3" x2="418.1" y2="521.8" stroke="#111" stroke-width="1.4"/>
<line x1="418.1" y1="299.8" x2="418.1" y2="303.8" stroke="#111" stroke-width="1.4"/>
<line x1="449.5" y1="526.3" x2="449.5" y2="518.8" stroke="#111" stroke-width="1.4"/>
<line x1="449.5" y1="299.8" x2="449.5" y2="305.3" stroke="#111" stroke-width="1.4"/>
<text x="449.5" y="542.1" font-size="14.4" fill="#111" text-anchor="middle">80</text>
<line x1="480.9" y1="526.3" x2="480.9" y2="521.8" stroke="#111" stroke-width="1.4"/>
<line x1="480.9" y1="299.8" x2="480.9" y2="303.8" stroke="#111" stroke-width="1.4"/>
<line x1="512.3" y1="526.3" x2="512.3" y2="518.8" stroke="#111" stroke-width="1.4"/>
<line x1="512.3" y1="299.8" x2="512.3" y2="305.3" stroke="#111" stroke-width="1.4"/>
<text x="512.3" y="542.1" font-size="14.4" fill="#111" text-anchor="middle">100</text>
<text x="354" y="557.4" font-size="13.8" fill="#111" text-anchor="middle" font-weight="bold" textLength="67.5" lengthAdjust="spacingAndGlyphs">Time (ms)</text>
<text x="165.8" y="448.5" transform="rotate(-90 165.8 448.5)" font-size="14" font-weight="bold" font-style="italic" fill="#111" font-family="Liberation Sans">&#956;<tspan font-size="9.5" dy="6">0</tspan><tspan dy="-6">H</tspan><tspan font-size="9.5" dy="6">a</tspan><tspan dy="-6">, B</tspan><tspan font-size="9.5" dy="6">L</tspan><tspan dy="-6" font-style="normal"> (T)</tspan></text>
<text x="230.6" y="318.9" font-size="13" fill="#111" textLength="129.8" lengthAdjust="spacingAndGlyphs">pulse No. 3 (RUN-1)</text>
<text x="265.3" y="342.6" font-size="13.4" fill="#111" font-family="Liberation Sans" textLength="121.2" lengthAdjust="spacingAndGlyphs"><tspan font-style="italic">T</tspan><tspan font-size="9" dy="3">s</tspan><tspan dy="-3">=28K, </tspan><tspan font-style="italic">B</tspan><tspan font-size="9" dy="3">ex</tspan><tspan dy="-3">=6.73T</tspan></text>
<text x="455.6" y="366.9" font-size="14" fill="#111" font-family="Liberation Sans"><tspan font-style="italic">B</tspan><tspan font-size="9.5" dy="7">L</tspan><tspan dy="-7">(C)</tspan></text>
<text x="455.3" y="415.8" font-size="14" fill="#111" font-family="Liberation Sans"><tspan font-style="italic">B</tspan><tspan font-size="9.5" dy="7">L</tspan><tspan dy="-7">(M)</tspan></text>
<text x="457.6" y="475" font-size="14" fill="#111" font-family="Liberation Sans"><tspan font-style="italic">B</tspan><tspan font-size="9.5" dy="7">L</tspan><tspan dy="-7">(E)</tspan></text>
<circle cx="426" cy="338.5" r="29.7" fill="#fff" stroke="#e5161d" stroke-width="3.8"/>
<line x1="405.4" y1="317.9" x2="446.6" y2="359.1" stroke="#111" stroke-width="1.5"/>
<line x1="446.6" y1="317.9" x2="405.4" y2="359.1" stroke="#111" stroke-width="1.5"/>
<circle cx="426" cy="338.5" r="2.6" fill="#4a8fd0"/>
<circle cx="437.4" cy="338.5" r="2.6" fill="#4a8fd0"/>
<circle cx="446.6" cy="338.5" r="2.6" fill="#4a8fd0"/>
<text x="422.8" y="332.5" font-size="8.6" fill="#2e75b6" font-weight="bold">C</text>
<text x="443.6" y="331.8" font-size="8.6" fill="#2e75b6" font-weight="bold">E</text>
<text x="433.7" y="348.6" font-size="8.6" fill="#2e75b6" font-weight="bold" textLength="7.8" lengthAdjust="spacingAndGlyphs">M</text>
<rect x="192.9" y="468.5" width="3.8" height="3.8" fill="none" stroke="#8c8c8c" stroke-width="0.75"/>
<rect x="195.9" y="468.5" width="3.8" height="3.8" fill="none" stroke="#8c8c8c" stroke-width="0.75"/>
<rect x="198.9" y="468.5" width="3.8" height="3.8" fill="none" stroke="#8c8c8c" stroke-width="0.75"/>
<rect x="201.9" y="463.35" width="3.8" height="3.8" fill="none" stroke="#8c8c8c" stroke-width="0.75"/>
<rect x="204.9" y="459.52" width="3.8" height="3.8" fill="none" stroke="#8c8c8c" stroke-width="0.75"/>
<rect x="207.9" y="459.37" width="3.8" height="3.8" fill="none" stroke="#8c8c8c" stroke-width="0.75"/>
<rect x="210.9" y="459.21" width="3.8" height="3.8" fill="none" stroke="#8c8c8c" stroke-width="0.75"/>
<rect x="213.9" y="459.14" width="3.8" height="3.8" fill="none" stroke="#8c8c8c" stroke-width="0.75"/>
<rect x="216.9" y="459.29" width="3.8" height="3.8" fill="none" stroke="#8c8c8c" stroke-width="0.75"/>
<rect x="219.9" y="459.44" width="3.8" height="3.8" fill="none" stroke="#8c8c8c" stroke-width="0.75"/>
<rect x="222.9" y="459.59" width="3.8" height="3.8" fill="none" stroke="#8c8c8c" stroke-width="0.75"/>
<rect x="225.9" y="459.29" width="3.8" height="3.8" fill="none" stroke="#8c8c8c" stroke-width="0.75"/>
<rect x="228.9" y="458.95" width="3.8" height="3.8" fill="none" stroke="#8c8c8c" stroke-width="0.75"/>
<rect x="231.9" y="458.61" width="3.8" height="3.8" fill="none" stroke="#8c8c8c" stroke-width="0.75"/>
<rect x="234.9" y="458.28" width="3.8" height="3.8" fill="none" stroke="#8c8c8c" stroke-width="0.75"/>
<rect x="237.9" y="458.9" width="3.8" height="3.8" fill="none" stroke="#8c8c8c" stroke-width="0.75"/>
<rect x="240.9" y="461.26" width="3.8" height="3.8" fill="none" stroke="#8c8c8c" stroke-width="0.75"/>
<rect x="243.9" y="465.17" width="3.8" height="3.8" fill="none" stroke="#8c8c8c" stroke-width="0.75"/>
<rect x="246.63" y="467.09" width="3.8" height="3.8" fill="none" stroke="#8c8c8c" stroke-width="0.75"/>
<rect x="247.99" y="458.63" width="3.8" height="3.8" fill="none" stroke="#8c8c8c" stroke-width="0.75"/>
<rect x="249.18" y="450.14" width="3.8" height="3.8" fill="none" stroke="#8c8c8c" stroke-width="0.75"/>
<rect x="250.3" y="441.64" width="3.8" height="3.8" fill="none" stroke="#8c8c8c" stroke-width="0.75"/>
<rect x="252.11" y="433.27" width="3.8" height="3.8" fill="none" stroke="#8c8c8c" stroke-width="0.75"/>
<rect x="254.07" y="424.93" width="3.8" height="3.8" fill="none" stroke="#8c8c8c" stroke-width="0.75"/>
<rect x="256.59" y="419.72" width="3.8" height="3.8" fill="none" stroke="#8c8c8c" stroke-width="0.75"/>
<rect x="259.59" y="417.31" width="3.8" height="3.8" fill="none" stroke="#8c8c8c" stroke-width="0.75"/>
<rect x="262.59" y="415.99" width="3.8" height="3.8" fill="none" stroke="#8c8c8c" stroke-width="0.75"/>
<rect x="265.59" y="415.23" width="3.8" height="3.8" fill="none" stroke="#8c8c8c" stroke-width="0.75"/>
<rect x="268.59" y="413.77" width="3.8" height="3.8" fill="none" stroke="#8c8c8c" stroke-width="0.75"/>
<rect x="271.59" y="412.17" width="3.8" height="3.8" fill="none" stroke="#8c8c8c" stroke-width="0.75"/>
<rect x="274.59" y="414.73" width="3.8" height="3.8" fill="none" stroke="#8c8c8c" stroke-width="0.75"/>
<rect x="277.59" y="417.77" width="3.8" height="3.8" fill="none" stroke="#8c8c8c" stroke-width="0.75"/>
<rect x="280.59" y="418.13" width="3.8" height="3.8" fill="none" stroke="#8c8c8c" stroke-width="0.75"/>
<rect x="283.59" y="417.11" width="3.8" height="3.8" fill="none" stroke="#8c8c8c" stroke-width="0.75"/>
<rect x="286.59" y="417.22" width="3.8" height="3.8" fill="none" stroke="#8c8c8c" stroke-width="0.75"/>
<rect x="289.59" y="419.04" width="3.8" height="3.8" fill="none" stroke="#8c8c8c" stroke-width="0.75"/>
<rect x="292.59" y="418.01" width="3.8" height="3.8" fill="none" stroke="#8c8c8c" stroke-width="0.75"/>
<rect x="295.59" y="414.43" width="3.8" height="3.8" fill="none" stroke="#8c8c8c" stroke-width="0.75"/>
<rect x="298.59" y="414.04" width="3.8" height="3.8" fill="none" stroke="#8c8c8c" stroke-width="0.75"/>
<rect x="301.59" y="415.54" width="3.8" height="3.8" fill="none" stroke="#8c8c8c" stroke-width="0.75"/>
<rect x="304.59" y="417.04" width="3.8" height="3.8" fill="none" stroke="#8c8c8c" stroke-width="0.75"/>
<rect x="307.59" y="418.31" width="3.8" height="3.8" fill="none" stroke="#8c8c8c" stroke-width="0.75"/>
<rect x="310.59" y="419.45" width="3.8" height="3.8" fill="none" stroke="#8c8c8c" stroke-width="0.75"/>
<rect x="313.59" y="420.58" width="3.8" height="3.8" fill="none" stroke="#8c8c8c" stroke-width="0.75"/>
<rect x="316.59" y="421" width="3.8" height="3.8" fill="none" stroke="#8c8c8c" stroke-width="0.75"/>
<rect x="319.59" y="421" width="3.8" height="3.8" fill="none" stroke="#8c8c8c" stroke-width="0.75"/>
<rect x="322.59" y="421" width="3.8" height="3.8" fill="none" stroke="#8c8c8c" stroke-width="0.75"/>
<rect x="325.59" y="421" width="3.8" height="3.8" fill="none" stroke="#8c8c8c" stroke-width="0.75"/>
<rect x="328.59" y="420.88" width="3.8" height="3.8" fill="none" stroke="#8c8c8c" stroke-width="0.75"/>
<rect x="331.59" y="420.15" width="3.8" height="3.8" fill="none" stroke="#8c8c8c" stroke-width="0.75"/>
<rect x="334.59" y="419.41" width="3.8" height="3.8" fill="none" stroke="#8c8c8c" stroke-width="0.75"/>
<rect x="337.59" y="419.04" width="3.8" height="3.8" fill="none" stroke="#8c8c8c" stroke-width="0.75"/>
<rect x="340.59" y="420.54" width="3.8" height="3.8" fill="none" stroke="#8c8c8c" stroke-width="0.75"/>
<rect x="343.59" y="422.04" width="3.8" height="3.8" fill="none" stroke="#8c8c8c" stroke-width="0.75"/>
<rect x="346.59" y="422.89" width="3.8" height="3.8" fill="none" stroke="#8c8c8c" stroke-width="0.75"/>
<rect x="349.59" y="422.52" width="3.8" height="3.8" fill="none" stroke="#8c8c8c" stroke-width="0.75"/>
<rect x="352.59" y="424.37" width="3.8" height="3.8" fill="none" stroke="#8c8c8c" stroke-width="0.75"/>
<rect x="355.59" y="425.27" width="3.8" height="3.8" fill="none" stroke="#8c8c8c" stroke-width="0.75"/>
<rect x="358.59" y="422.94" width="3.8" height="3.8" fill="none" stroke="#8c8c8c" stroke-width="0.75"/>
<rect x="361.59" y="420.61" width="3.8" height="3.8" fill="none" stroke="#8c8c8c" stroke-width="0.75"/>
<rect x="364.59" y="421.19" width="3.8" height="3.8" fill="none" stroke="#8c8c8c" stroke-width="0.75"/>
<rect x="367.59" y="423.25" width="3.8" height="3.8" fill="none" stroke="#8c8c8c" stroke-width="0.75"/>
<rect x="370.59" y="425.79" width="3.8" height="3.8" fill="none" stroke="#8c8c8c" stroke-width="0.75"/>
<rect x="373.59" y="427.01" width="3.8" height="3.8" fill="none" stroke="#8c8c8c" stroke-width="0.75"/>
<rect x="376.59" y="425.8" width="3.8" height="3.8" fill="none" stroke="#8c8c8c" stroke-width="0.75"/>
<rect x="379.59" y="425.8" width="3.8" height="3.8" fill="none" stroke="#8c8c8c" stroke-width="0.75"/>
<rect x="382.59" y="425.8" width="3.8" height="3.8" fill="none" stroke="#8c8c8c" stroke-width="0.75"/>
<rect x="385.59" y="421.7" width="3.8" height="3.8" fill="none" stroke="#8c8c8c" stroke-width="0.75"/>
<rect x="388.59" y="422.5" width="3.8" height="3.8" fill="none" stroke="#8c8c8c" stroke-width="0.75"/>
<rect x="391.59" y="424.43" width="3.8" height="3.8" fill="none" stroke="#8c8c8c" stroke-width="0.75"/>
<rect x="394.59" y="425.66" width="3.8" height="3.8" fill="none" stroke="#8c8c8c" stroke-width="0.75"/>
<rect x="397.59" y="425.19" width="3.8" height="3.8" fill="none" stroke="#8c8c8c" stroke-width="0.75"/>
<rect x="400.59" y="425.92" width="3.8" height="3.8" fill="none" stroke="#8c8c8c" stroke-width="0.75"/>
<rect x="403.59" y="425.8" width="3.8" height="3.8" fill="none" stroke="#8c8c8c" stroke-width="0.75"/>
<rect x="406.59" y="424.22" width="3.8" height="3.8" fill="none" stroke="#8c8c8c" stroke-width="0.75"/>
<rect x="409.59" y="426.07" width="3.8" height="3.8" fill="none" stroke="#8c8c8c" stroke-width="0.75"/>
<rect x="412.59" y="425.67" width="3.8" height="3.8" fill="none" stroke="#8c8c8c" stroke-width="0.75"/>
<rect x="415.59" y="424.11" width="3.8" height="3.8" fill="none" stroke="#8c8c8c" stroke-width="0.75"/>
<rect x="418.59" y="426.09" width="3.8" height="3.8" fill="none" stroke="#8c8c8c" stroke-width="0.75"/>
<rect x="421.59" y="427" width="3.8" height="3.8" fill="none" stroke="#8c8c8c" stroke-width="0.75"/>
<rect x="424.59" y="425.29" width="3.8" height="3.8" fill="none" stroke="#8c8c8c" stroke-width="0.75"/>
<rect x="427.59" y="423.59" width="3.8" height="3.8" fill="none" stroke="#8c8c8c" stroke-width="0.75"/>
<rect x="430.59" y="424.13" width="3.8" height="3.8" fill="none" stroke="#8c8c8c" stroke-width="0.75"/>
<rect x="433.59" y="425.33" width="3.8" height="3.8" fill="none" stroke="#8c8c8c" stroke-width="0.75"/>
<rect x="436.59" y="427.85" width="3.8" height="3.8" fill="none" stroke="#8c8c8c" stroke-width="0.75"/>
<rect x="439.59" y="429.66" width="3.8" height="3.8" fill="none" stroke="#8c8c8c" stroke-width="0.75"/>
<rect x="442.59" y="430.66" width="3.8" height="3.8" fill="none" stroke="#8c8c8c" stroke-width="0.75"/>
<rect x="445.59" y="429.02" width="3.8" height="3.8" fill="none" stroke="#8c8c8c" stroke-width="0.75"/>
<rect x="448.59" y="426.63" width="3.8" height="3.8" fill="none" stroke="#8c8c8c" stroke-width="0.75"/>
<rect x="451.59" y="425.46" width="3.8" height="3.8" fill="none" stroke="#8c8c8c" stroke-width="0.75"/>
<rect x="454.59" y="424.3" width="3.8" height="3.8" fill="none" stroke="#8c8c8c" stroke-width="0.75"/>
<rect x="457.59" y="424.54" width="3.8" height="3.8" fill="none" stroke="#8c8c8c" stroke-width="0.75"/>
<rect x="460.59" y="425.24" width="3.8" height="3.8" fill="none" stroke="#8c8c8c" stroke-width="0.75"/>
<rect x="463.59" y="427.12" width="3.8" height="3.8" fill="none" stroke="#8c8c8c" stroke-width="0.75"/>
<rect x="466.59" y="429" width="3.8" height="3.8" fill="none" stroke="#8c8c8c" stroke-width="0.75"/>
<rect x="469.59" y="426.99" width="3.8" height="3.8" fill="none" stroke="#8c8c8c" stroke-width="0.75"/>
<rect x="472.59" y="425.22" width="3.8" height="3.8" fill="none" stroke="#8c8c8c" stroke-width="0.75"/>
<rect x="475.59" y="426.32" width="3.8" height="3.8" fill="none" stroke="#8c8c8c" stroke-width="0.75"/>
<rect x="478.59" y="427.42" width="3.8" height="3.8" fill="none" stroke="#8c8c8c" stroke-width="0.75"/>
<rect x="481.59" y="423.95" width="3.8" height="3.8" fill="none" stroke="#8c8c8c" stroke-width="0.75"/>
<rect x="484.59" y="425.35" width="3.8" height="3.8" fill="none" stroke="#8c8c8c" stroke-width="0.75"/>
<rect x="487.59" y="427.31" width="3.8" height="3.8" fill="none" stroke="#8c8c8c" stroke-width="0.75"/>
<rect x="490.59" y="425.81" width="3.8" height="3.8" fill="none" stroke="#8c8c8c" stroke-width="0.75"/>
<rect x="493.59" y="424.31" width="3.8" height="3.8" fill="none" stroke="#8c8c8c" stroke-width="0.75"/>
<rect x="496.59" y="425.41" width="3.8" height="3.8" fill="none" stroke="#8c8c8c" stroke-width="0.75"/>
<rect x="499.59" y="426.94" width="3.8" height="3.8" fill="none" stroke="#8c8c8c" stroke-width="0.75"/>
<rect x="502.59" y="426.57" width="3.8" height="3.8" fill="none" stroke="#8c8c8c" stroke-width="0.75"/>
<rect x="505.59" y="425.1" width="3.8" height="3.8" fill="none" stroke="#8c8c8c" stroke-width="0.75"/>
<rect x="508.59" y="428.09" width="3.8" height="3.8" fill="none" stroke="#8c8c8c" stroke-width="0.75"/>
<polygon points="194.8,468.5 196.6,471.7 193,471.7" stroke="#8c8c8c" stroke-width="0.7" fill="none" stroke-linejoin="round"/>
<polygon points="197.8,468.62 199.6,471.82 196,471.82" stroke="#8c8c8c" stroke-width="0.7" fill="none" stroke-linejoin="round"/>
<polygon points="200.79,470.84 202.59,474.04 198.99,474.04" stroke="#8c8c8c" stroke-width="0.7" fill="none" stroke-linejoin="round"/>
<polygon points="203.74,478.89 205.54,482.09 201.94,482.09" stroke="#8c8c8c" stroke-width="0.7" fill="none" stroke-linejoin="round"/>
<polygon points="206.72,478.78 208.52,481.98 204.92,481.98" stroke="#8c8c8c" stroke-width="0.7" fill="none" stroke-linejoin="round"/>
<polygon points="209.72,476.02 211.52,479.22 207.92,479.22" stroke="#8c8c8c" stroke-width="0.7" fill="none" stroke-linejoin="round"/>
<polygon points="212.72,475.23 214.52,478.43 210.92,478.43" stroke="#8c8c8c" stroke-width="0.7" fill="none" stroke-linejoin="round"/>
<polygon points="215.72,469.55 217.52,472.75 213.92,472.75" stroke="#8c8c8c" stroke-width="0.7" fill="none" stroke-linejoin="round"/>
<polygon points="218.72,463.27 220.52,466.47 216.92,466.47" stroke="#8c8c8c" stroke-width="0.7" fill="none" stroke-linejoin="round"/>
<polygon points="221.46,456.71 223.26,459.91 219.66,459.91" stroke="#8c8c8c" stroke-width="0.7" fill="none" stroke-linejoin="round"/>
<polygon points="223.4,448.36 225.2,451.56 221.6,451.56" stroke="#8c8c8c" stroke-width="0.7" fill="none" stroke-linejoin="round"/>
<polygon points="225.57,440.07 227.37,443.27 223.77,443.27" stroke="#8c8c8c" stroke-width="0.7" fill="none" stroke-linejoin="round"/>
<polygon points="228.05,431.86 229.85,435.06 226.25,435.06" stroke="#8c8c8c" stroke-width="0.7" fill="none" stroke-linejoin="round"/>
<polygon points="230.23,423.58 232.03,426.78 228.43,426.78" stroke="#8c8c8c" stroke-width="0.7" fill="none" stroke-linejoin="round"/>
<polygon points="232.5,415.32 234.3,418.52 230.7,418.52" stroke="#8c8c8c" stroke-width="0.7" fill="none" stroke-linejoin="round"/>
<polygon points="235.22,408.76 237.02,411.96 233.42,411.96" stroke="#8c8c8c" stroke-width="0.7" fill="none" stroke-linejoin="round"/>
<polygon points="238.22,406.45 240.02,409.65 236.42,409.65" stroke="#8c8c8c" stroke-width="0.7" fill="none" stroke-linejoin="round"/>
<polygon points="241.22,404.45 243.02,407.65 239.42,407.65" stroke="#8c8c8c" stroke-width="0.7" fill="none" stroke-linejoin="round"/>
<polygon points="244.22,405.25 246.02,408.45 242.42,408.45" stroke="#8c8c8c" stroke-width="0.7" fill="none" stroke-linejoin="round"/>
<polygon points="247.22,408 249.02,411.2 245.42,411.2" stroke="#8c8c8c" stroke-width="0.7" fill="none" stroke-linejoin="round"/>
<polygon points="250.22,403.72 252.02,406.92 248.42,406.92" stroke="#8c8c8c" stroke-width="0.7" fill="none" stroke-linejoin="round"/>
<polygon points="253.22,398.63 255.02,401.83 251.42,401.83" stroke="#8c8c8c" stroke-width="0.7" fill="none" stroke-linejoin="round"/>
<polygon points="256.22,399.12 258.02,402.32 254.42,402.32" stroke="#8c8c8c" stroke-width="0.7" fill="none" stroke-linejoin="round"/>
<polygon points="259.22,404.05 261.02,407.25 257.42,407.25" stroke="#8c8c8c" stroke-width="0.7" fill="none" stroke-linejoin="round"/>
<polygon points="262.22,402.9 264.02,406.1 260.42,406.1" stroke="#8c8c8c" stroke-width="0.7" fill="none" stroke-linejoin="round"/>
<polygon points="265.22,402.3 267.02,405.5 263.42,405.5" stroke="#8c8c8c" stroke-width="0.7" fill="none" stroke-linejoin="round"/>
<polygon points="268.22,401.91 270.02,405.11 266.42,405.11" stroke="#8c8c8c" stroke-width="0.7" fill="none" stroke-linejoin="round"/>
<polygon points="271.22,403.22 273.02,406.42 269.42,406.42" stroke="#8c8c8c" stroke-width="0.7" fill="none" stroke-linejoin="round"/>
<polygon points="274.22,404.53 276.02,407.73 272.42,407.73" stroke="#8c8c8c" stroke-width="0.7" fill="none" stroke-linejoin="round"/>
<polygon points="277.22,405.91 279.02,409.11 275.42,409.11" stroke="#8c8c8c" stroke-width="0.7" fill="none" stroke-linejoin="round"/>
<polygon points="280.22,407.41 282.02,410.61 278.42,410.61" stroke="#8c8c8c" stroke-width="0.7" fill="none" stroke-linejoin="round"/>
<polygon points="283.22,408.91 285.02,412.11 281.42,412.11" stroke="#8c8c8c" stroke-width="0.7" fill="none" stroke-linejoin="round"/>
<polygon points="286.22,410.36 288.02,413.56 284.42,413.56" stroke="#8c8c8c" stroke-width="0.7" fill="none" stroke-linejoin="round"/>
<polygon points="289.22,411.74 291.02,414.94 287.42,414.94" stroke="#8c8c8c" stroke-width="0.7" fill="none" stroke-linejoin="round"/>
<polygon points="292.22,415.16 294.02,418.36 290.42,418.36" stroke="#8c8c8c" stroke-width="0.7" fill="none" stroke-linejoin="round"/>
<polygon points="295.22,415.19 297.02,418.39 293.42,418.39" stroke="#8c8c8c" stroke-width="0.7" fill="none" stroke-linejoin="round"/>
<polygon points="298.22,411.37 300.02,414.57 296.42,414.57" stroke="#8c8c8c" stroke-width="0.7" fill="none" stroke-linejoin="round"/>
<polygon points="301.22,413.08 303.02,416.28 299.42,416.28" stroke="#8c8c8c" stroke-width="0.7" fill="none" stroke-linejoin="round"/>
<polygon points="304.22,414.79 306.02,417.99 302.42,417.99" stroke="#8c8c8c" stroke-width="0.7" fill="none" stroke-linejoin="round"/>
<polygon points="307.22,416.69 309.02,419.89 305.42,419.89" stroke="#8c8c8c" stroke-width="0.7" fill="none" stroke-linejoin="round"/>
<polygon points="310.22,418.71 312.02,421.91 308.42,421.91" stroke="#8c8c8c" stroke-width="0.7" fill="none" stroke-linejoin="round"/>
<polygon points="313.22,420.2 315.02,423.4 311.42,423.4" stroke="#8c8c8c" stroke-width="0.7" fill="none" stroke-linejoin="round"/>
<polygon points="316.22,420.93 318.02,424.13 314.42,424.13" stroke="#8c8c8c" stroke-width="0.7" fill="none" stroke-linejoin="round"/>
<polygon points="319.22,421.67 321.02,424.87 317.42,424.87" stroke="#8c8c8c" stroke-width="0.7" fill="none" stroke-linejoin="round"/>
<polygon points="322.22,422.73 324.02,425.93 320.42,425.93" stroke="#8c8c8c" stroke-width="0.7" fill="none" stroke-linejoin="round"/>
<polygon points="325.22,424.26 327.02,427.46 323.42,427.46" stroke="#8c8c8c" stroke-width="0.7" fill="none" stroke-linejoin="round"/>
<polygon points="328.22,425.79 330.02,428.99 326.42,428.99" stroke="#8c8c8c" stroke-width="0.7" fill="none" stroke-linejoin="round"/>
<polygon points="331.22,428.1 333.02,431.3 329.42,431.3" stroke="#8c8c8c" stroke-width="0.7" fill="none" stroke-linejoin="round"/>
<polygon points="334.22,431.55 336.02,434.75 332.42,434.75" stroke="#8c8c8c" stroke-width="0.7" fill="none" stroke-linejoin="round"/>
<polygon points="337.22,434.34 339.02,437.54 335.42,437.54" stroke="#8c8c8c" stroke-width="0.7" fill="none" stroke-linejoin="round"/>
<polygon points="340.22,433.22 342.02,436.42 338.42,436.42" stroke="#8c8c8c" stroke-width="0.7" fill="none" stroke-linejoin="round"/>
<polygon points="343.22,432.1 345.02,435.3 341.42,435.3" stroke="#8c8c8c" stroke-width="0.7" fill="none" stroke-linejoin="round"/>
<polygon points="346.22,431.28 348.02,434.48 344.42,434.48" stroke="#8c8c8c" stroke-width="0.7" fill="none" stroke-linejoin="round"/>
<polygon points="349.22,432.97 351.02,436.17 347.42,436.17" stroke="#8c8c8c" stroke-width="0.7" fill="none" stroke-linejoin="round"/>
<polygon points="352.22,434.51 354.02,437.71 350.42,437.71" stroke="#8c8c8c" stroke-width="0.7" fill="none" stroke-linejoin="round"/>
<polygon points="355.22,432.62 357.02,435.82 353.42,435.82" stroke="#8c8c8c" stroke-width="0.7" fill="none" stroke-linejoin="round"/>
<polygon points="358.22,435.8 360.02,439 356.42,439" stroke="#8c8c8c" stroke-width="0.7" fill="none" stroke-linejoin="round"/>
<polygon points="361.22,436.08 363.02,439.28 359.42,439.28" stroke="#8c8c8c" stroke-width="0.7" fill="none" stroke-linejoin="round"/>
<polygon points="364.22,433.55 366.02,436.75 362.42,436.75" stroke="#8c8c8c" stroke-width="0.7" fill="none" stroke-linejoin="round"/>
<polygon points="367.22,439.06 369.02,442.26 365.42,442.26" stroke="#8c8c8c" stroke-width="0.7" fill="none" stroke-linejoin="round"/>
<polygon points="370.22,436.86 372.02,440.06 368.42,440.06" stroke="#8c8c8c" stroke-width="0.7" fill="none" stroke-linejoin="round"/>
<polygon points="373.22,437.19 375.02,440.39 371.42,440.39" stroke="#8c8c8c" stroke-width="0.7" fill="none" stroke-linejoin="round"/>
<polygon points="376.22,437.6 378.02,440.8 374.42,440.8" stroke="#8c8c8c" stroke-width="0.7" fill="none" stroke-linejoin="round"/>
<polygon points="379.22,439.14 381.02,442.34 377.42,442.34" stroke="#8c8c8c" stroke-width="0.7" fill="none" stroke-linejoin="round"/>
<polygon points="382.22,440.97 384.02,444.17 380.42,444.17" stroke="#8c8c8c" stroke-width="0.7" fill="none" stroke-linejoin="round"/>
<polygon points="385.22,440.21 387.02,443.41 383.42,443.41" stroke="#8c8c8c" stroke-width="0.7" fill="none" stroke-linejoin="round"/>
<polygon points="388.22,439.45 390.02,442.65 386.42,442.65" stroke="#8c8c8c" stroke-width="0.7" fill="none" stroke-linejoin="round"/>
<polygon points="391.22,440.11 393.02,443.31 389.42,443.31" stroke="#8c8c8c" stroke-width="0.7" fill="none" stroke-linejoin="round"/>
<polygon points="394.22,440.95 396.02,444.15 392.42,444.15" stroke="#8c8c8c" stroke-width="0.7" fill="none" stroke-linejoin="round"/>
<polygon points="397.22,440.48 399.02,443.68 395.42,443.68" stroke="#8c8c8c" stroke-width="0.7" fill="none" stroke-linejoin="round"/>
<polygon points="400.22,442.06 402.02,445.26 398.42,445.26" stroke="#8c8c8c" stroke-width="0.7" fill="none" stroke-linejoin="round"/>
<polygon points="403.22,445.77 405.02,448.97 401.42,448.97" stroke="#8c8c8c" stroke-width="0.7" fill="none" stroke-linejoin="round"/>
<polygon points="406.22,447.3 408.02,450.5 404.42,450.5" stroke="#8c8c8c" stroke-width="0.7" fill="none" stroke-linejoin="round"/>
<polygon points="409.22,447.3 411.02,450.5 407.42,450.5" stroke="#8c8c8c" stroke-width="0.7" fill="none" stroke-linejoin="round"/>
<polygon points="412.22,447.3 414.02,450.5 410.42,450.5" stroke="#8c8c8c" stroke-width="0.7" fill="none" stroke-linejoin="round"/>
<polygon points="415.22,447.3 417.02,450.5 413.42,450.5" stroke="#8c8c8c" stroke-width="0.7" fill="none" stroke-linejoin="round"/>
<polygon points="418.22,447.3 420.02,450.5 416.42,450.5" stroke="#8c8c8c" stroke-width="0.7" fill="none" stroke-linejoin="round"/>
<polygon points="421.22,447.02 423.02,450.22 419.42,450.22" stroke="#8c8c8c" stroke-width="0.7" fill="none" stroke-linejoin="round"/>
<polygon points="424.22,444.46 426.02,447.66 422.42,447.66" stroke="#8c8c8c" stroke-width="0.7" fill="none" stroke-linejoin="round"/>
<polygon points="427.22,445.68 429.02,448.88 425.42,448.88" stroke="#8c8c8c" stroke-width="0.7" fill="none" stroke-linejoin="round"/>
<polygon points="430.22,446.96 432.02,450.16 428.42,450.16" stroke="#8c8c8c" stroke-width="0.7" fill="none" stroke-linejoin="round"/>
<polygon points="433.22,447.71 435.02,450.91 431.42,450.91" stroke="#8c8c8c" stroke-width="0.7" fill="none" stroke-linejoin="round"/>
<polygon points="436.22,448.46 438.02,451.66 434.42,451.66" stroke="#8c8c8c" stroke-width="0.7" fill="none" stroke-linejoin="round"/>
<polygon points="439.22,448.6 441.02,451.8 437.42,451.8" stroke="#8c8c8c" stroke-width="0.7" fill="none" stroke-linejoin="round"/>
<polygon points="442.22,448.6 444.02,451.8 440.42,451.8" stroke="#8c8c8c" stroke-width="0.7" fill="none" stroke-linejoin="round"/>
<polygon points="445.22,448.6 447.02,451.8 443.42,451.8" stroke="#8c8c8c" stroke-width="0.7" fill="none" stroke-linejoin="round"/>
<polygon points="448.22,448.6 450.02,451.8 446.42,451.8" stroke="#8c8c8c" stroke-width="0.7" fill="none" stroke-linejoin="round"/>
<polygon points="451.22,448.6 453.02,451.8 449.42,451.8" stroke="#8c8c8c" stroke-width="0.7" fill="none" stroke-linejoin="round"/>
<polygon points="454.22,450.47 456.02,453.67 452.42,453.67" stroke="#8c8c8c" stroke-width="0.7" fill="none" stroke-linejoin="round"/>
<polygon points="457.22,452.69 459.02,455.89 455.42,455.89" stroke="#8c8c8c" stroke-width="0.7" fill="none" stroke-linejoin="round"/>
<polygon points="460.22,451.28 462.02,454.48 458.42,454.48" stroke="#8c8c8c" stroke-width="0.7" fill="none" stroke-linejoin="round"/>
<polygon points="463.22,452.28 465.02,455.48 461.42,455.48" stroke="#8c8c8c" stroke-width="0.7" fill="none" stroke-linejoin="round"/>
<polygon points="466.22,449.27 468.02,452.47 464.42,452.47" stroke="#8c8c8c" stroke-width="0.7" fill="none" stroke-linejoin="round"/>
<polygon points="469.22,454.43 471.02,457.63 467.42,457.63" stroke="#8c8c8c" stroke-width="0.7" fill="none" stroke-linejoin="round"/>
<polygon points="472.22,453.96 474.02,457.16 470.42,457.16" stroke="#8c8c8c" stroke-width="0.7" fill="none" stroke-linejoin="round"/>
<polygon points="475.22,453.52 477.02,456.72 473.42,456.72" stroke="#8c8c8c" stroke-width="0.7" fill="none" stroke-linejoin="round"/>
<polygon points="478.22,453.13 480.02,456.33 476.42,456.33" stroke="#8c8c8c" stroke-width="0.7" fill="none" stroke-linejoin="round"/>
<polygon points="481.22,452.8 483.02,456 479.42,456" stroke="#8c8c8c" stroke-width="0.7" fill="none" stroke-linejoin="round"/>
<polygon points="484.22,452.8 486.02,456 482.42,456" stroke="#8c8c8c" stroke-width="0.7" fill="none" stroke-linejoin="round"/>
<polygon points="487.22,452.8 489.02,456 485.42,456" stroke="#8c8c8c" stroke-width="0.7" fill="none" stroke-linejoin="round"/>
<polygon points="490.22,452.8 492.02,456 488.42,456" stroke="#8c8c8c" stroke-width="0.7" fill="none" stroke-linejoin="round"/>
<polygon points="493.22,453.61 495.02,456.81 491.42,456.81" stroke="#8c8c8c" stroke-width="0.7" fill="none" stroke-linejoin="round"/>
<polygon points="496.22,454.39 498.02,457.59 494.42,457.59" stroke="#8c8c8c" stroke-width="0.7" fill="none" stroke-linejoin="round"/>
<polygon points="499.22,453.37 501.02,456.57 497.42,456.57" stroke="#8c8c8c" stroke-width="0.7" fill="none" stroke-linejoin="round"/>
<polygon points="502.22,453.68 504.02,456.88 500.42,456.88" stroke="#8c8c8c" stroke-width="0.7" fill="none" stroke-linejoin="round"/>
<polygon points="505.22,455.68 507.02,458.88 503.42,458.88" stroke="#8c8c8c" stroke-width="0.7" fill="none" stroke-linejoin="round"/>
<polygon points="508.22,453.98 510.02,457.18 506.42,457.18" stroke="#8c8c8c" stroke-width="0.7" fill="none" stroke-linejoin="round"/>
<polygon points="511.22,453.37 513.02,456.57 509.42,456.57" stroke="#8c8c8c" stroke-width="0.7" fill="none" stroke-linejoin="round"/>
<polyline points="229.5,494 232.8,484.3 235.7,475.7 238.8,456.8 241.9,447.1 244.4,394.8 248.3,371 251.4,359.4 254.7,357.5" stroke="#444" stroke-width="0.9" fill="none" stroke-linejoin="round"/>
<polyline points="194.8,470.4 201.5,470.4 203.5,466 205.3,461.5 215,461 225,461.5 238.4,460 241.9,462 245,466 248.3,470.4 250.3,458 252.4,442 256.9,422.9 262.5,418.4 268,417 273.8,413.9 280.5,420.7 287.3,418.4 292.9,421.8 298.6,415 307.6,419.5 316.6,422.9 330,422.9 339,420.7 348,425.2 350,423.5 356.8,427.7 364.4,421.8 368.6,424.4 374.5,429.4 377.9,427.7 384.6,427.7 387.1,423.5 390.5,424.4 395.6,427.7 400.7,426.9 404,428.6 408.3,426 412.5,428.6 417.5,426 422.6,429.4 430,425.2 435.1,426.9 440.1,431.1 445.2,432.8 450.3,428.6 457,426 462.1,426.9 468.8,431.1 473.9,426.9 480.7,429.4 484,425.2 489.1,429.4 495.9,426 502.6,429.4 507.7,426.9 512.3,432" stroke="#1a1a1a" stroke-width="1.1" fill="none" stroke-linejoin="round"/>
<polyline points="194.8,470.4 200,470.6 202,476 204.5,482.9 209.4,478 213.2,477 217.1,468.4 219.4,463.8 221,460.6 224.5,445.5 228.7,431.6 231.6,420 234.4,411.3 238,408.5 242.8,405.3 246.8,410.5 250,406 254.6,398.2 259.1,406 263,404.5 268.2,403.8 276,407.2 285,411.7 290,414 294,419.5 297.4,412.8 305.3,417.3 312,421.8 321,424 330,428.6 336.8,436.4 345.9,433 350,435.3 353.4,437 355.9,433.6 359.3,439.6 364.4,435.3 366.9,441.2 370.3,438.7 377,439.6 382.1,442.9 388.8,441.2 393.9,442.9 399,442.1 402.3,447.1 405.7,449.2 420.9,449.2 424.3,446.3 430,448.8 436.8,450.5 452,450.5 457,454.7 460.4,453.1 462.1,456.4 465.5,449.7 468.8,456.4 473.9,455.6 480.7,454.7 490.8,454.7 495.9,456.4 500.9,454.7 506,458.1 509.4,454.7 512.3,455.6" stroke="#1a1a1a" stroke-width="1.1" fill="none" stroke-linejoin="round"/>
<polyline points="197.4,526.3 197.6,519 200,514.4 202.6,501.7 204.7,488 206.6,478 210.5,440.5 214.5,409 218.4,374.7 222.4,364.2 226.3,353.7 228.9,340.5 231.6,339.2 233.2,339 235.5,335.3 240.8,335.3 243.5,340 246,345.8 250,354.7 257.5,368.8 266.9,386.6 274.4,398.8 281.9,408.2 287.3,418.4 298.6,429.7 303,437 307.6,444.3 310,451.3 317.5,452.8 324.1,465.3 327.8,466.3 333.5,473.8 336.3,470 343.8,478.5 346,479.4 349.4,487.3 352.2,479.4 356,487.3 358.8,488.8 362.2,495.9 365.3,491.6 373.8,491.6 377.2,500.4 380.4,496.3 384.1,500.4 389.7,501 393.5,509 396.3,504.7 400,504.9 402.5,507.4 407.5,504.9 410,507.4 412.5,509.9 422.5,509.9 426.2,513.7 438.7,513.7 441.2,516.2 444.9,517.4 448.7,513.7 451.1,516.2 453.6,514.9 457.4,514.9 461.1,518.7 467.4,518.7 469.9,522.4 479.8,522.4 483.6,519.9 487.3,518.7 491.1,522.4 512.3,522.4" stroke="#111" stroke-width="1.6" fill="none" stroke-linejoin="round"/>
<polyline points="194.5,494.6 197.9,495.8 201.3,494.6 204.1,498 208,495.8 212.5,494 216.5,494.6 220.4,496.3 223.8,496.7 226.6,495.8 230,493.5" stroke="#111" stroke-width="0.8" fill="none" stroke-linejoin="round"/>
<polyline points="254.7,357.5 258.5,359.4 261.3,360.3 265.5,362 269.7,362.5 272.5,364.8 276.7,370.4 281,369 286.6,368.7 292.2,369.6 297.8,370.4 301.4,370.1 304.2,376.2 307.7,379 311.3,374.1 316.9,376.2 321.1,372 323.9,377.6 329.5,374.1 333.8,375.5 336.6,380.8 342.2,372 345,376.9 350.7,378.3 356.3,376.9 361.2,375.2 364.7,374.1 367.5,380.4 373.8,380 379.5,378.8 385.1,377.2 390.7,376 394.9,376.6 399.2,381.7 405,379 412,380 420,378.5 428,380 434,379 440,379.8 442.8,382.6 447,381.6 451.3,379.1 454.1,378.4 458.3,379.1 461.1,381.2 464.6,386.1 467.4,381.6 471,379.8 475.2,379.4 479.4,378.4 482.2,379.1 486.4,378.4 492.1,379.1 494.2,383 497.7,379.1 501.9,379.1 506.1,380.5 510.4,381.9" stroke="#111" stroke-width="0.8" fill="none" stroke-linejoin="round"/>
<circle cx="194.5" cy="494.6" r="2.35" fill="#111"/>
<circle cx="197.8" cy="495.76" r="2.35" fill="#111"/>
<circle cx="201.1" cy="494.67" r="2.35" fill="#111"/>
<circle cx="204.4" cy="497.83" r="2.35" fill="#111"/>
<circle cx="207.7" cy="495.97" r="2.35" fill="#111"/>
<circle cx="211" cy="494.6" r="2.35" fill="#111"/>
<circle cx="214.3" cy="494.27" r="2.35" fill="#111"/>
<circle cx="217.6" cy="495.08" r="2.35" fill="#111"/>
<circle cx="220.9" cy="496.36" r="2.35" fill="#111"/>
<circle cx="224.2" cy="496.57" r="2.35" fill="#111"/>
<circle cx="227.5" cy="495.19" r="2.35" fill="#111"/>
<circle cx="232.8" cy="484.3" r="2.5" fill="#111"/>
<circle cx="235.7" cy="475.7" r="2.5" fill="#111"/>
<circle cx="238.8" cy="456.8" r="2.5" fill="#111"/>
<circle cx="241.9" cy="447.1" r="2.5" fill="#111"/>
<circle cx="244.4" cy="394.8" r="2.5" fill="#111"/>
<circle cx="248.3" cy="371" r="2.5" fill="#111"/>
<circle cx="251.4" cy="359.4" r="2.5" fill="#111"/>
<circle cx="254.7" cy="357.5" r="2.5" fill="#111"/>
<circle cx="254.7" cy="357.5" r="2.35" fill="#111"/>
<circle cx="258" cy="359.15" r="2.35" fill="#111"/>
<circle cx="261.3" cy="360.3" r="2.35" fill="#111"/>
<circle cx="264.6" cy="361.64" r="2.35" fill="#111"/>
<circle cx="267.9" cy="362.29" r="2.35" fill="#111"/>
<circle cx="271.2" cy="363.73" r="2.35" fill="#111"/>
<circle cx="274.5" cy="367.47" r="2.35" fill="#111"/>
<circle cx="277.8" cy="370.04" r="2.35" fill="#111"/>
<circle cx="281.1" cy="368.99" r="2.35" fill="#111"/>
<circle cx="284.4" cy="368.82" r="2.35" fill="#111"/>
<circle cx="287.7" cy="368.88" r="2.35" fill="#111"/>
<circle cx="291" cy="369.41" r="2.35" fill="#111"/>
<circle cx="294.3" cy="369.9" r="2.35" fill="#111"/>
<circle cx="297.6" cy="370.37" r="2.35" fill="#111"/>
<circle cx="300.9" cy="370.14" r="2.35" fill="#111"/>
<circle cx="304.2" cy="376.2" r="2.35" fill="#111"/>
<circle cx="307.5" cy="378.84" r="2.35" fill="#111"/>
<circle cx="310.8" cy="374.78" r="2.35" fill="#111"/>
<circle cx="314.1" cy="375.15" r="2.35" fill="#111"/>
<circle cx="317.4" cy="375.7" r="2.35" fill="#111"/>
<circle cx="320.7" cy="372.4" r="2.35" fill="#111"/>
<circle cx="324" cy="377.54" r="2.35" fill="#111"/>
<circle cx="327.3" cy="375.48" r="2.35" fill="#111"/>
<circle cx="330.6" cy="374.46" r="2.35" fill="#111"/>
<circle cx="333.9" cy="375.69" r="2.35" fill="#111"/>
<circle cx="337.2" cy="379.86" r="2.35" fill="#111"/>
<circle cx="340.5" cy="374.67" r="2.35" fill="#111"/>
<circle cx="343.8" cy="374.8" r="2.35" fill="#111"/>
<circle cx="347.1" cy="377.42" r="2.35" fill="#111"/>
<circle cx="350.4" cy="378.23" r="2.35" fill="#111"/>
<circle cx="353.7" cy="377.55" r="2.35" fill="#111"/>
<circle cx="357" cy="376.66" r="2.35" fill="#111"/>
<circle cx="360.3" cy="375.51" r="2.35" fill="#111"/>
<circle cx="363.6" cy="374.45" r="2.35" fill="#111"/>
<circle cx="366.9" cy="379.05" r="2.35" fill="#111"/>
<circle cx="370.2" cy="380.23" r="2.35" fill="#111"/>
<circle cx="373.5" cy="380.02" r="2.35" fill="#111"/>
<circle cx="376.8" cy="379.37" r="2.35" fill="#111"/>
<circle cx="380.1" cy="378.63" r="2.35" fill="#111"/>
<circle cx="383.4" cy="377.69" r="2.35" fill="#111"/>
<circle cx="386.7" cy="376.86" r="2.35" fill="#111"/>
<circle cx="390" cy="376.15" r="2.35" fill="#111"/>
<circle cx="393.3" cy="376.37" r="2.35" fill="#111"/>
<circle cx="396.6" cy="378.62" r="2.35" fill="#111"/>
<circle cx="399.9" cy="381.37" r="2.35" fill="#111"/>
<circle cx="403.2" cy="379.84" r="2.35" fill="#111"/>
<circle cx="406.5" cy="379.21" r="2.35" fill="#111"/>
<circle cx="409.8" cy="379.69" r="2.35" fill="#111"/>
<circle cx="413.1" cy="379.79" r="2.35" fill="#111"/>
<circle cx="416.4" cy="379.18" r="2.35" fill="#111"/>
<circle cx="419.7" cy="378.56" r="2.35" fill="#111"/>
<circle cx="423" cy="379.06" r="2.35" fill="#111"/>
<circle cx="426.3" cy="379.68" r="2.35" fill="#111"/>
<circle cx="429.6" cy="379.73" r="2.35" fill="#111"/>
<circle cx="432.9" cy="379.18" r="2.35" fill="#111"/>
<circle cx="436.2" cy="379.29" r="2.35" fill="#111"/>
<circle cx="439.5" cy="379.73" r="2.35" fill="#111"/>
<circle cx="442.8" cy="382.6" r="2.35" fill="#111"/>
<circle cx="446.1" cy="381.81" r="2.35" fill="#111"/>
<circle cx="449.4" cy="380.2" r="2.35" fill="#111"/>
<circle cx="452.7" cy="378.75" r="2.35" fill="#111"/>
<circle cx="456" cy="378.72" r="2.35" fill="#111"/>
<circle cx="459.3" cy="379.85" r="2.35" fill="#111"/>
<circle cx="462.6" cy="383.3" r="2.35" fill="#111"/>
<circle cx="465.9" cy="384.01" r="2.35" fill="#111"/>
<circle cx="469.2" cy="380.7" r="2.35" fill="#111"/>
<circle cx="472.5" cy="379.66" r="2.35" fill="#111"/>
<circle cx="475.8" cy="379.26" r="2.35" fill="#111"/>
<circle cx="479.1" cy="378.47" r="2.35" fill="#111"/>
<circle cx="482.4" cy="379.07" r="2.35" fill="#111"/>
<circle cx="485.7" cy="378.52" r="2.35" fill="#111"/>
<circle cx="489" cy="378.72" r="2.35" fill="#111"/>
<circle cx="492.3" cy="379.47" r="2.35" fill="#111"/>
<circle cx="495.6" cy="381.44" r="2.35" fill="#111"/>
<circle cx="498.9" cy="379.1" r="2.35" fill="#111"/>
<circle cx="502.2" cy="379.2" r="2.35" fill="#111"/>
<circle cx="505.5" cy="380.3" r="2.35" fill="#111"/>
<circle cx="508.8" cy="381.38" r="2.35" fill="#111"/>
</svg></body></html>
